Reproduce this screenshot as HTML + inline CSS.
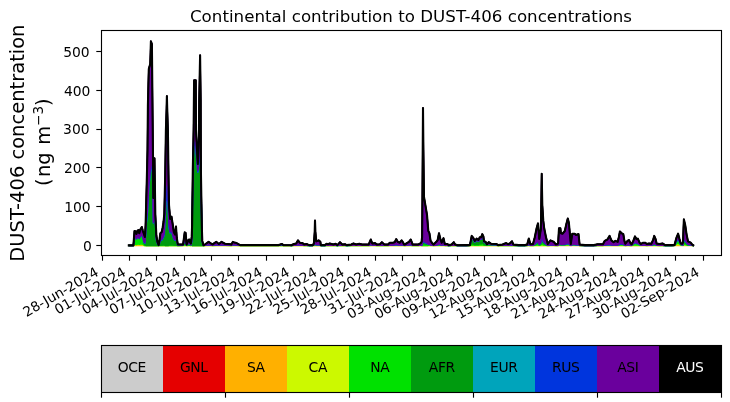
<!DOCTYPE html>
<html lang="en"><head><meta charset="utf-8"><title>Continental contribution to DUST-406 concentrations</title>
<style>html,body{margin:0;padding:0;background:#fff;width:730px;height:402px;overflow:hidden}</style></head>
<body>
<svg width="730" height="402" viewBox="0 0 730 402" style="display:block;position:absolute;left:0;top:0" font-family="'DejaVu Sans','Liberation Sans',sans-serif">
<rect width="730" height="402" fill="#fff"/>
<g stroke-width="1.39" stroke-linejoin="round"><path d="M128.8,245.5 L133.4,245.5 L134.5,244.78 L135.6,244.8 L136.4,244.93 L137.5,244.75 L138.4,244.73 L139.3,244.88 L140.2,244.71 L141.8,244.57 L142.9,244.78 L144,245.5 L144.9,245.5 L145.6,245.5 L146,245.5 L146.8,245.5 L147.5,245.5 L147.9,245.5 L148.4,245.5 L148.8,245.5 L150.2,245.5 L150.6,245.5 L150.9,245.5 L151.9,245.5 L152.6,245.5 L153.4,245.5 L154.5,245.5 L155.3,245.5 L156.4,245.5 L157.5,245.5 L158.6,245.5 L159.5,245.5 L160,245.5 L160.4,245.5 L161.7,245.5 L162.6,245.5 L163.5,245.5 L164.3,245.5 L165.2,245.5 L165.9,245.5 L166.6,245.5 L166.9,245.5 L167.2,245.5 L167.9,245.5 L168.5,245.5 L169,245.5 L170.2,245.5 L171.5,245.5 L172.5,245.5 L173.8,245.5 L175,245.5 L176,245.5 L176.8,245.5 L177.8,245.5 L183,245.5 L183.1,245.5 L184.7,245.5 L185.6,245.5 L186.6,245.5 L188.4,245.5 L189.3,245.5 L190,245.5 L190.9,245.5 L191.6,245.5 L191.7,245.5 L192,245.5 L192.1,245.5 L192.8,245.5 L193.6,245.5 L194.1,245.5 L195.8,245.5 L196,245.5 L197.8,245.5 L198.9,245.5 L199.2,245.5 L200.1,245.5 L200.7,245.5 L200.9,245.5 L201.8,245.5 L202.3,245.5 L203.5,245.5 L205,245.5 L205.5,245.5 L208.6,245.5 L211,245.5 L212.6,245.5 L216.2,245.5 L218.9,245.5 L221.6,245.5 L223.5,245.5 L225.1,245.5 L230.5,245.5 L231.3,245.5 L232.9,245.5 L234.5,245.5 L236.6,245.5 L240,245.5 L240.2,245.5 L242,245.5 L278.7,245.5 L281.8,245.5 L283.5,245.5 L290,245.5 L291.3,245.5 L293,245.5 L294,245.5 L296.2,245.5 L298,245.5 L299.8,245.5 L302.5,245.5 L304.2,245.5 L306.5,245.5 L309.2,245.5 L312.8,245.5 L313.9,245.5 L314.7,245.5 L315,245.5 L315.4,245.5 L316.3,245.5 L318.6,245.5 L320.4,245.5 L320.8,245.5 L324.8,245.5 L326.6,245.5 L328,245.5 L329.8,245.5 L333.3,245.5 L335.6,245.5 L337.4,245.5 L340,245.5 L342.3,245.5 L345,245.5 L346.8,245.5 L351.3,245.5 L353.5,245.5 L356.2,245.5 L359.3,245.5 L362,245.5 L368.7,245.5 L370.8,245.5 L372.3,245.5 L375,245.5 L376.8,245.5 L379.9,245.5 L381.9,245.5 L384.4,245.5 L388,245.5 L389.8,245.5 L392.9,245.5 L394.7,245.5 L396.2,245.5 L397.8,245.5 L399.6,245.5 L401.6,245.5 L403.2,245.5 L404.1,245.5 L405,245.5 L406.8,245.5 L409,245.5 L410.8,245.5 L412.6,245.5 L418.4,245.5 L420,245.5 L420.7,245.5 L421.6,245.5 L422.1,245.5 L422.3,245.5 L422.4,245.5 L423,245.5 L423.4,245.5 L424,245.5 L427,245.5 L427.8,245.5 L428.3,245.5 L429.4,245.5 L430,245.5 L430.6,245.5 L431.9,245.5 L433.6,245.5 L436.3,245.5 L437.7,245.5 L439,245.5 L440.4,245.5 L441.7,245.5 L443.5,245.5 L444.8,245.5 L447.1,245.5 L448.9,245.5 L451.6,245.5 L453.8,245.5 L455.1,245.5 L457.8,245.5 L465,245.5 L466,245.5 L469.9,245.5 L470,245.5 L471.7,245.5 L473.5,245.5 L474.8,245.5 L476.6,245.5 L478.4,245.5 L479.8,245.5 L481.1,245.5 L482.3,245.5 L483.4,245.5 L484,245.5 L485.6,245.5 L486,245.5 L486.9,245.5 L488.7,245.5 L489,245.5 L491,245.5 L496.3,245.5 L498,245.5 L498.1,245.5 L501,245.5 L502.6,245.5 L504.4,245.5 L506.2,245.5 L508,245.5 L509.8,245.5 L512,245.5 L513.3,245.5 L518.7,245.5 L525,245.5 L527.2,245.5 L528,245.5 L528.8,245.5 L530.4,245.5 L533,245.5 L534.8,245.5 L536.6,245.5 L538,245.5 L539.3,245.5 L540.9,245.5 L541.7,245.5 L542.3,245.5 L543.3,245.5 L544.2,245.5 L546,245.5 L547.8,245.5 L548,245.5 L550.5,245.45 L553.6,245.42 L555.9,245.47 L556,245.47 L558.1,245.44 L559,244.98 L560.4,244.98 L560.9,245.13 L562.6,245.15 L564.8,245.06 L566.6,244.82 L567.8,244.69 L568.9,244.82 L569.8,245.12 L570.8,245.45 L572.3,245.15 L574.7,245.15 L576,245.19 L578.5,245.16 L579.6,245.47 L585,245.49 L594,245.49 L597.5,245.46 L600,245.46 L602.9,245.49 L604,245.5 L604.7,245.5 L607.4,245.5 L609.6,245.5 L611.4,245.5 L613.6,245.5 L615.4,245.5 L617.7,245.5 L619,245.5 L619.9,245.5 L621.7,245.5 L623.3,245.5 L624.4,245.5 L625.3,245.5 L627.5,245.5 L628.9,245.5 L630.7,245.5 L631,245.5 L631.6,245.5 L633.3,245.5 L635,245.5 L636.5,245.5 L637.8,245.5 L639.6,245.5 L640,245.5 L641,245.5 L642,245.5 L643.2,245.5 L645,245.5 L646.8,245.5 L649,245.5 L651.3,245.5 L653.1,245.5 L654.2,245.5 L655.6,245.5 L656.6,245.5 L659.3,245.5 L662.5,245.5 L665.1,245.5 L672,245.5 L674.5,245.47 L675,245.27 L676.3,244.77 L678.1,244.32 L679.5,244.86 L680.8,245.3 L681,245.3 L682.2,245.41 L683,245.44 L683.5,245.15 L683.9,244.96 L685.3,245.06 L686.6,245.25 L688,245.4 L690.7,245.42 L692,245.47 L693.3,245.49 L693.3,245.5 L692,245.5 L690.7,245.5 L688,245.5 L686.6,245.5 L685.3,245.5 L683.9,245.5 L683.5,245.5 L683,245.5 L682.2,245.5 L681,245.5 L680.8,245.5 L679.5,245.5 L678.1,245.5 L676.3,245.5 L675,245.5 L674.5,245.5 L672,245.5 L665.1,245.5 L662.5,245.5 L659.3,245.5 L656.6,245.5 L655.6,245.5 L654.2,245.5 L653.1,245.5 L651.3,245.5 L649,245.5 L646.8,245.5 L645,245.5 L643.2,245.5 L642,245.5 L641,245.5 L640,245.5 L639.6,245.5 L637.8,245.5 L636.5,245.5 L635,245.5 L633.3,245.5 L631.6,245.5 L631,245.5 L630.7,245.5 L628.9,245.5 L627.5,245.5 L625.3,245.5 L624.4,245.5 L623.3,245.5 L621.7,245.5 L619.9,245.5 L619,245.5 L617.7,245.5 L615.4,245.5 L613.6,245.5 L611.4,245.5 L609.6,245.5 L607.4,245.5 L604.7,245.5 L604,245.5 L602.9,245.5 L600,245.5 L597.5,245.5 L594,245.5 L585,245.5 L579.6,245.5 L578.5,245.5 L576,245.5 L574.7,245.5 L572.3,245.5 L570.8,245.5 L569.8,245.5 L568.9,245.5 L567.8,245.5 L566.6,245.5 L564.8,245.5 L562.6,245.5 L560.9,245.5 L560.4,245.5 L559,245.5 L558.1,245.5 L556,245.5 L555.9,245.5 L553.6,245.5 L550.5,245.5 L548,245.5 L547.8,245.5 L546,245.5 L544.2,245.5 L543.3,245.5 L542.3,245.5 L541.7,245.5 L540.9,245.5 L539.3,245.5 L538,245.5 L536.6,245.5 L534.8,245.5 L533,245.5 L530.4,245.5 L528.8,245.5 L528,245.5 L527.2,245.5 L525,245.5 L518.7,245.5 L513.3,245.5 L512,245.5 L509.8,245.5 L508,245.5 L506.2,245.5 L504.4,245.5 L502.6,245.5 L501,245.5 L498.1,245.5 L498,245.5 L496.3,245.5 L491,245.5 L489,245.5 L488.7,245.5 L486.9,245.5 L486,245.5 L485.6,245.5 L484,245.5 L483.4,245.5 L482.3,245.5 L481.1,245.5 L479.8,245.5 L478.4,245.5 L476.6,245.5 L474.8,245.5 L473.5,245.5 L471.7,245.5 L470,245.5 L469.9,245.5 L466,245.5 L465,245.5 L457.8,245.5 L455.1,245.5 L453.8,245.5 L451.6,245.5 L448.9,245.5 L447.1,245.5 L444.8,245.5 L443.5,245.5 L441.7,245.5 L440.4,245.5 L439,245.5 L437.7,245.5 L436.3,245.5 L433.6,245.5 L431.9,245.5 L430.6,245.5 L430,245.5 L429.4,245.5 L428.3,245.5 L427.8,245.5 L427,245.5 L424,245.5 L423.4,245.5 L423,245.5 L422.4,245.5 L422.3,245.5 L422.1,245.5 L421.6,245.5 L420.7,245.5 L420,245.5 L418.4,245.5 L412.6,245.5 L410.8,245.5 L409,245.5 L406.8,245.5 L405,245.5 L404.1,245.5 L403.2,245.5 L401.6,245.5 L399.6,245.5 L397.8,245.5 L396.2,245.5 L394.7,245.5 L392.9,245.5 L389.8,245.5 L388,245.5 L384.4,245.5 L381.9,245.5 L379.9,245.5 L376.8,245.5 L375,245.5 L372.3,245.5 L370.8,245.5 L368.7,245.5 L362,245.5 L359.3,245.5 L356.2,245.5 L353.5,245.5 L351.3,245.5 L346.8,245.5 L345,245.5 L342.3,245.5 L340,245.5 L337.4,245.5 L335.6,245.5 L333.3,245.5 L329.8,245.5 L328,245.5 L326.6,245.5 L324.8,245.5 L320.8,245.5 L320.4,245.5 L318.6,245.5 L316.3,245.5 L315.4,245.5 L315,245.5 L314.7,245.5 L313.9,245.5 L312.8,245.5 L309.2,245.5 L306.5,245.5 L304.2,245.5 L302.5,245.5 L299.8,245.5 L298,245.5 L296.2,245.5 L294,245.5 L293,245.5 L291.3,245.5 L290,245.5 L283.5,245.5 L281.8,245.5 L278.7,245.5 L242,245.5 L240.2,245.5 L240,245.5 L236.6,245.5 L234.5,245.5 L232.9,245.5 L231.3,245.5 L230.5,245.5 L225.1,245.5 L223.5,245.5 L221.6,245.5 L218.9,245.5 L216.2,245.5 L212.6,245.5 L211,245.5 L208.6,245.5 L205.5,245.5 L205,245.5 L203.5,245.5 L202.3,245.5 L201.8,245.5 L200.9,245.5 L200.7,245.5 L200.1,245.5 L199.2,245.5 L198.9,245.5 L197.8,245.5 L196,245.5 L195.8,245.5 L194.1,245.5 L193.6,245.5 L192.8,245.5 L192.1,245.5 L192,245.5 L191.7,245.5 L191.6,245.5 L190.9,245.5 L190,245.5 L189.3,245.5 L188.4,245.5 L186.6,245.5 L185.6,245.5 L184.7,245.5 L183.1,245.5 L183,245.5 L177.8,245.5 L176.8,245.5 L176,245.5 L175,245.5 L173.8,245.5 L172.5,245.5 L171.5,245.5 L170.2,245.5 L169,245.5 L168.5,245.5 L167.9,245.5 L167.2,245.5 L166.9,245.5 L166.6,245.5 L165.9,245.5 L165.2,245.5 L164.3,245.5 L163.5,245.5 L162.6,245.5 L161.7,245.5 L160.4,245.5 L160,245.5 L159.5,245.5 L158.6,245.5 L157.5,245.5 L156.4,245.5 L155.3,245.5 L154.5,245.5 L153.4,245.5 L152.6,245.5 L151.9,245.5 L150.9,245.5 L150.6,245.5 L150.2,245.5 L148.8,245.5 L148.4,245.5 L147.9,245.5 L147.5,245.5 L146.8,245.5 L146,245.5 L145.6,245.5 L144.9,245.5 L144,245.5 L142.9,245.5 L141.8,245.5 L140.2,245.5 L139.3,245.5 L138.4,245.5 L137.5,245.5 L136.4,245.5 L135.6,245.5 L134.5,245.5 L133.4,245.5 L128.8,245.5Z" fill="#ffb000" stroke="#ffb000"/><path d="M128.8,245.49 L133.4,245.49 L134.5,244.19 L135.6,244.24 L136.4,244.47 L137.5,244.16 L138.4,244.11 L139.3,244.39 L140.2,244.08 L141.8,243.84 L142.9,244.19 L144,245.16 L144.9,245.5 L145.6,245.5 L146,245.5 L146.8,245.5 L147.5,245.5 L147.9,245.5 L148.4,245.5 L148.8,245.5 L150.2,245.5 L150.6,245.5 L150.9,245.5 L151.9,245.5 L152.6,245.5 L153.4,245.5 L154.5,245.5 L155.3,245.5 L156.4,245.5 L157.5,245.5 L158.6,245.5 L159.5,245.5 L160,245.5 L160.4,245.5 L161.7,245.5 L162.6,245.5 L163.5,245.5 L164.3,245.5 L165.2,245.5 L165.9,245.5 L166.6,245.5 L166.9,245.5 L167.2,245.5 L167.9,245.5 L168.5,245.5 L169,245.5 L170.2,245.5 L171.5,245.5 L172.5,245.5 L173.8,245.5 L175,245.5 L176,245.5 L176.8,245.5 L177.8,245.5 L183,245.45 L183.1,245.45 L184.7,244.9 L185.6,244.95 L186.6,245.46 L188.4,245.29 L189.3,245.29 L190,245.38 L190.9,245.44 L191.6,245.27 L191.7,245.31 L192,245.5 L192.1,245.5 L192.8,245.5 L193.6,245.5 L194.1,245.5 L195.8,245.5 L196,245.5 L197.8,245.5 L198.9,245.5 L199.2,245.5 L200.1,245.5 L200.7,245.5 L200.9,245.5 L201.8,245.5 L202.3,245.5 L203.5,245.5 L205,245.44 L205.5,245.43 L208.6,245.31 L211,245.4 L212.6,245.44 L216.2,245.31 L218.9,245.43 L221.6,245.31 L223.5,245.38 L225.1,245.41 L230.5,245.44 L231.3,245.45 L232.9,245.32 L234.5,245.35 L236.6,245.38 L240,245.47 L240.2,245.48 L242,245.5 L278.7,245.5 L281.8,245.5 L283.5,245.5 L290,245.5 L291.3,245.5 L293,245.45 L294,245.42 L296.2,245.4 L298,245.25 L299.8,245.36 L302.5,245.38 L304.2,245.45 L306.5,245.42 L309.2,245.48 L312.8,245.48 L313.9,245.4 L314.7,244.82 L315,244.25 L315.4,244.82 L316.3,245.29 L318.6,245.25 L320.4,245.31 L320.8,245.48 L324.8,245.48 L326.6,245.41 L328,245.44 L329.8,245.4 L333.3,245.45 L335.6,245.41 L337.4,245.48 L340,245.34 L342.3,245.45 L345,245.44 L346.8,245.48 L351.3,245.45 L353.5,245.4 L356.2,245.45 L359.3,245.41 L362,245.45 L368.7,245.45 L370.8,245.2 L372.3,245.4 L375,245.38 L376.8,245.45 L379.9,245.44 L381.9,245.34 L384.4,245.45 L388,245.45 L389.8,245.36 L392.9,245.36 L394.7,245.34 L396.2,245.18 L397.8,245.31 L399.6,245.36 L401.6,245.25 L403.2,245.36 L404.1,245.45 L405,245.45 L406.8,245.38 L409,245.31 L410.8,245.2 L412.6,245.45 L418.4,245.45 L420,245.4 L420.7,245.42 L421.6,245.45 L422.1,245.46 L422.3,245.5 L422.4,245.5 L423,245.5 L423.4,245.5 L424,245.5 L427,245.5 L427.8,245.5 L428.3,245.37 L429.4,245.14 L430,245.16 L430.6,245.32 L431.9,245.39 L433.6,245.46 L436.3,245.35 L437.7,245.28 L439,245.01 L440.4,245.24 L441.7,245.39 L443.5,245.21 L444.8,245.44 L447.1,245.44 L448.9,245.48 L451.6,245.46 L453.8,245.37 L455.1,245.46 L457.8,245.49 L465,245.48 L466,245.48 L469.9,245.48 L470,245.45 L471.7,245.02 L473.5,245.13 L474.8,245.27 L476.6,245.16 L478.4,245.22 L479.8,245.09 L481.1,245.09 L482.3,244.93 L483.4,245.04 L484,245.29 L485.6,245.31 L486,245.35 L486.9,245.42 L488.7,245.19 L489,245.19 L491,245.32 L496.3,245.34 L498,245.45 L498.1,245.46 L501,245.5 L502.6,245.5 L504.4,245.5 L506.2,245.5 L508,245.5 L509.8,245.5 L512,245.5 L513.3,245.5 L518.7,245.5 L525,245.5 L527.2,245.48 L528,245.42 L528.8,245.36 L530.4,245.47 L533,245.47 L534.8,245.34 L536.6,245.16 L538,245.06 L539.3,245.37 L540.9,245.17 L541.7,244.07 L542.3,244.69 L543.3,245.01 L544.2,245.16 L546,245.34 L547.8,245.47 L548,245.46 L550.5,245.38 L553.6,245.4 L555.9,245.47 L556,245.47 L558.1,245.44 L559,244.98 L560.4,244.98 L560.9,245.13 L562.6,245.15 L564.8,245.06 L566.6,244.82 L567.8,244.69 L568.9,244.82 L569.8,245.12 L570.8,245.45 L572.3,245.15 L574.7,245.15 L576,245.19 L578.5,245.16 L579.6,245.47 L585,245.49 L594,245.49 L597.5,245.46 L600,245.46 L602.9,245.46 L604,245.4 L604.7,245.36 L607.4,245.32 L609.6,245.21 L611.4,245.35 L613.6,245.4 L615.4,245.36 L617.7,245.39 L619,245.23 L619.9,245.08 L621.7,245.13 L623.3,245.16 L624.4,245.36 L625.3,245.45 L627.5,245.36 L628.9,245.34 L630.7,245.44 L631,245.45 L631.6,245.45 L633.3,245.18 L635,244.86 L636.5,245.05 L637.8,245.02 L639.6,245.3 L640,245.33 L641,245.41 L642,245.42 L643.2,245.39 L645,245.39 L646.8,245.44 L649,245.42 L651.3,245.43 L653.1,245.28 L654.2,245.12 L655.6,245.24 L656.6,245.42 L659.3,245.44 L662.5,245.42 L665.1,245.48 L672,245.48 L674.5,245.43 L675,245.04 L676.3,244.04 L678.1,243.14 L679.5,244.22 L680.8,245.09 L681,245.1 L682.2,245.31 L683,245.38 L683.5,244.79 L683.9,244.39 L685.3,244.58 L686.6,244.96 L688,245.27 L690.7,245.33 L692,245.43 L693.3,245.49 L693.3,245.49 L692,245.47 L690.7,245.42 L688,245.4 L686.6,245.25 L685.3,245.06 L683.9,244.96 L683.5,245.15 L683,245.44 L682.2,245.41 L681,245.3 L680.8,245.3 L679.5,244.86 L678.1,244.32 L676.3,244.77 L675,245.27 L674.5,245.47 L672,245.5 L665.1,245.5 L662.5,245.5 L659.3,245.5 L656.6,245.5 L655.6,245.5 L654.2,245.5 L653.1,245.5 L651.3,245.5 L649,245.5 L646.8,245.5 L645,245.5 L643.2,245.5 L642,245.5 L641,245.5 L640,245.5 L639.6,245.5 L637.8,245.5 L636.5,245.5 L635,245.5 L633.3,245.5 L631.6,245.5 L631,245.5 L630.7,245.5 L628.9,245.5 L627.5,245.5 L625.3,245.5 L624.4,245.5 L623.3,245.5 L621.7,245.5 L619.9,245.5 L619,245.5 L617.7,245.5 L615.4,245.5 L613.6,245.5 L611.4,245.5 L609.6,245.5 L607.4,245.5 L604.7,245.5 L604,245.5 L602.9,245.49 L600,245.46 L597.5,245.46 L594,245.49 L585,245.49 L579.6,245.47 L578.5,245.16 L576,245.19 L574.7,245.15 L572.3,245.15 L570.8,245.45 L569.8,245.12 L568.9,244.82 L567.8,244.69 L566.6,244.82 L564.8,245.06 L562.6,245.15 L560.9,245.13 L560.4,244.98 L559,244.98 L558.1,245.44 L556,245.47 L555.9,245.47 L553.6,245.42 L550.5,245.45 L548,245.5 L547.8,245.5 L546,245.5 L544.2,245.5 L543.3,245.5 L542.3,245.5 L541.7,245.5 L540.9,245.5 L539.3,245.5 L538,245.5 L536.6,245.5 L534.8,245.5 L533,245.5 L530.4,245.5 L528.8,245.5 L528,245.5 L527.2,245.5 L525,245.5 L518.7,245.5 L513.3,245.5 L512,245.5 L509.8,245.5 L508,245.5 L506.2,245.5 L504.4,245.5 L502.6,245.5 L501,245.5 L498.1,245.5 L498,245.5 L496.3,245.5 L491,245.5 L489,245.5 L488.7,245.5 L486.9,245.5 L486,245.5 L485.6,245.5 L484,245.5 L483.4,245.5 L482.3,245.5 L481.1,245.5 L479.8,245.5 L478.4,245.5 L476.6,245.5 L474.8,245.5 L473.5,245.5 L471.7,245.5 L470,245.5 L469.9,245.5 L466,245.5 L465,245.5 L457.8,245.5 L455.1,245.5 L453.8,245.5 L451.6,245.5 L448.9,245.5 L447.1,245.5 L444.8,245.5 L443.5,245.5 L441.7,245.5 L440.4,245.5 L439,245.5 L437.7,245.5 L436.3,245.5 L433.6,245.5 L431.9,245.5 L430.6,245.5 L430,245.5 L429.4,245.5 L428.3,245.5 L427.8,245.5 L427,245.5 L424,245.5 L423.4,245.5 L423,245.5 L422.4,245.5 L422.3,245.5 L422.1,245.5 L421.6,245.5 L420.7,245.5 L420,245.5 L418.4,245.5 L412.6,245.5 L410.8,245.5 L409,245.5 L406.8,245.5 L405,245.5 L404.1,245.5 L403.2,245.5 L401.6,245.5 L399.6,245.5 L397.8,245.5 L396.2,245.5 L394.7,245.5 L392.9,245.5 L389.8,245.5 L388,245.5 L384.4,245.5 L381.9,245.5 L379.9,245.5 L376.8,245.5 L375,245.5 L372.3,245.5 L370.8,245.5 L368.7,245.5 L362,245.5 L359.3,245.5 L356.2,245.5 L353.5,245.5 L351.3,245.5 L346.8,245.5 L345,245.5 L342.3,245.5 L340,245.5 L337.4,245.5 L335.6,245.5 L333.3,245.5 L329.8,245.5 L328,245.5 L326.6,245.5 L324.8,245.5 L320.8,245.5 L320.4,245.5 L318.6,245.5 L316.3,245.5 L315.4,245.5 L315,245.5 L314.7,245.5 L313.9,245.5 L312.8,245.5 L309.2,245.5 L306.5,245.5 L304.2,245.5 L302.5,245.5 L299.8,245.5 L298,245.5 L296.2,245.5 L294,245.5 L293,245.5 L291.3,245.5 L290,245.5 L283.5,245.5 L281.8,245.5 L278.7,245.5 L242,245.5 L240.2,245.5 L240,245.5 L236.6,245.5 L234.5,245.5 L232.9,245.5 L231.3,245.5 L230.5,245.5 L225.1,245.5 L223.5,245.5 L221.6,245.5 L218.9,245.5 L216.2,245.5 L212.6,245.5 L211,245.5 L208.6,245.5 L205.5,245.5 L205,245.5 L203.5,245.5 L202.3,245.5 L201.8,245.5 L200.9,245.5 L200.7,245.5 L200.1,245.5 L199.2,245.5 L198.9,245.5 L197.8,245.5 L196,245.5 L195.8,245.5 L194.1,245.5 L193.6,245.5 L192.8,245.5 L192.1,245.5 L192,245.5 L191.7,245.5 L191.6,245.5 L190.9,245.5 L190,245.5 L189.3,245.5 L188.4,245.5 L186.6,245.5 L185.6,245.5 L184.7,245.5 L183.1,245.5 L183,245.5 L177.8,245.5 L176.8,245.5 L176,245.5 L175,245.5 L173.8,245.5 L172.5,245.5 L171.5,245.5 L170.2,245.5 L169,245.5 L168.5,245.5 L167.9,245.5 L167.2,245.5 L166.9,245.5 L166.6,245.5 L165.9,245.5 L165.2,245.5 L164.3,245.5 L163.5,245.5 L162.6,245.5 L161.7,245.5 L160.4,245.5 L160,245.5 L159.5,245.5 L158.6,245.5 L157.5,245.5 L156.4,245.5 L155.3,245.5 L154.5,245.5 L153.4,245.5 L152.6,245.5 L151.9,245.5 L150.9,245.5 L150.6,245.5 L150.2,245.5 L148.8,245.5 L148.4,245.5 L147.9,245.5 L147.5,245.5 L146.8,245.5 L146,245.5 L145.6,245.5 L144.9,245.5 L144,245.5 L142.9,244.78 L141.8,244.57 L140.2,244.71 L139.3,244.88 L138.4,244.73 L137.5,244.75 L136.4,244.93 L135.6,244.8 L134.5,244.78 L133.4,245.5 L128.8,245.5Z" fill="#ccf900" stroke="#ccf900"/><path d="M128.8,245.44 L133.4,245.44 L134.5,237.53 L135.6,237.8 L136.4,239.18 L137.5,237.31 L138.4,237.03 L139.3,238.73 L140.2,236.81 L141.8,235.32 L142.9,237.53 L144,243.45 L144.9,244.82 L145.6,244.47 L146,245.5 L146.8,245.5 L147.5,245.5 L147.9,245.5 L148.4,245.5 L148.8,245.5 L150.2,245.5 L150.6,245.5 L150.9,245.5 L151.9,245.5 L152.6,245.5 L153.4,245.5 L154.5,245.5 L155.3,245.5 L156.4,245.5 L157.5,245.5 L158.6,245.5 L159.5,245.39 L160,245.22 L160.4,245.13 L161.7,245.09 L162.6,244.97 L163.5,244.92 L164.3,244.87 L165.2,245.5 L165.9,245.5 L166.6,245.5 L166.9,245.5 L167.2,245.5 L167.9,245.5 L168.5,245.5 L169,245.14 L170.2,244.71 L171.5,244.64 L172.5,244.82 L173.8,245.09 L175,245.17 L176,244.93 L176.8,245.28 L177.8,245.47 L183,245.34 L183.1,245.34 L184.7,243.66 L185.6,243.8 L186.6,245.36 L188.4,244.85 L189.3,244.82 L190,245.11 L190.9,245.29 L191.6,244.72 L191.7,244.85 L192,245.5 L192.1,245.5 L192.8,245.5 L193.6,245.5 L194.1,245.5 L195.8,245.5 L196,245.5 L197.8,245.5 L198.9,245.5 L199.2,245.5 L200.1,245.5 L200.7,245.5 L200.9,245.5 L201.8,245.5 L202.3,245.5 L203.5,245.5 L205,245.32 L205.5,245.28 L208.6,244.94 L211,245.2 L212.6,245.34 L216.2,244.94 L218.9,245.28 L221.6,244.94 L223.5,245.12 L225.1,245.23 L230.5,245.31 L231.3,245.35 L232.9,244.96 L234.5,245.06 L236.6,245.14 L240,245.42 L240.2,245.43 L242,245.38 L278.7,245.38 L281.8,245.03 L283.5,245.38 L290,245.43 L291.3,245.45 L293,245.34 L294,245.27 L296.2,245.19 L298,244.74 L299.8,245.08 L302.5,245.14 L304.2,245.34 L306.5,245.27 L309.2,245.44 L312.8,245.44 L313.9,245.19 L314.7,243.46 L315,241.75 L315.4,243.46 L316.3,244.88 L318.6,244.74 L320.4,244.94 L320.8,245.44 L324.8,245.44 L326.6,245.23 L328,245.31 L329.8,245.19 L333.3,245.34 L335.6,245.23 L337.4,245.44 L340,245 L342.3,245.34 L345,245.31 L346.8,245.44 L351.3,245.34 L353.5,245.19 L356.2,245.34 L359.3,245.23 L362,245.34 L368.7,245.34 L370.8,244.6 L372.3,245.19 L375,245.14 L376.8,245.34 L379.9,245.31 L381.9,245 L384.4,245.34 L388,245.34 L389.8,245.08 L392.9,245.08 L394.7,245 L396.2,244.54 L397.8,244.94 L399.6,245.08 L401.6,244.74 L403.2,245.08 L404.1,245.34 L405,245.34 L406.8,245.14 L409,244.94 L410.8,244.6 L412.6,245.34 L418.4,245.34 L420,245.21 L420.7,245.24 L421.6,245.26 L422.1,245.15 L422.3,244.5 L422.4,244.13 L423,241.2 L423.4,242.44 L424,243.9 L427,244.32 L427.8,244.67 L428.3,244.65 L429.4,244.28 L430,244.48 L430.6,244.95 L431.9,245.16 L433.6,245.37 L436.3,245.06 L437.7,244.84 L439,244.04 L440.4,244.73 L441.7,245.16 L443.5,244.62 L444.8,245.31 L447.1,245.31 L448.9,245.45 L451.6,245.37 L453.8,245.1 L455.1,245.37 L457.8,245.48 L465,245.45 L466,245.45 L469.9,245.42 L470,245.32 L471.7,243.58 L473.5,244.04 L474.8,244.58 L476.6,244.12 L478.4,244.4 L479.8,243.86 L481.1,243.86 L482.3,243.22 L483.4,243.68 L484,244.66 L485.6,244.76 L486,244.91 L486.9,245.21 L488.7,244.54 L489,244.57 L491,244.97 L496.3,245.03 L498,245.36 L498.1,245.38 L501,245.42 L502.6,245.39 L504.4,245.32 L506.2,245.26 L508,245.37 L509.8,245.3 L512,245.08 L513.3,245.39 L518.7,245.46 L525,245.46 L527.2,245.39 L528,245.1 L528.8,244.81 L530.4,245.37 L533,245.34 L534.8,244.68 L536.6,243.78 L538,243.29 L539.3,244.84 L540.9,243.84 L541.7,238.33 L542.3,241.45 L543.3,243.04 L544.2,243.78 L546,244.68 L547.8,245.34 L548,245.32 L550.5,245.04 L553.6,245.21 L555.9,245.43 L556,245.42 L558.1,245.36 L559,244.3 L560.4,244.3 L560.9,244.65 L562.6,244.67 L564.8,244.49 L566.6,243.93 L567.8,243.61 L568.9,243.93 L569.8,244.61 L570.8,245.39 L572.3,244.67 L574.7,244.67 L576,244.76 L578.5,244.7 L579.6,245.43 L585,245.47 L594,245.47 L597.5,245.41 L600,245.41 L602.9,245.38 L604,245.17 L604.7,245.04 L607.4,244.9 L609.6,244.54 L611.4,244.99 L613.6,245.17 L615.4,245.04 L617.7,245.13 L619,244.59 L619.9,244.1 L621.7,244.28 L623.3,244.36 L624.4,245.04 L625.3,245.32 L627.5,245.04 L628.9,244.95 L630.7,245.3 L631,245.32 L631.6,245.3 L633.3,244.03 L635,242.59 L636.5,243.45 L637.8,243.29 L639.6,244.6 L640,244.72 L641,245.14 L642,245.2 L643.2,245.11 L645,245.11 L646.8,245.28 L649,245.21 L651.3,245.25 L653.1,244.73 L654.2,244.16 L655.6,244.6 L656.6,245.21 L659.3,245.28 L662.5,245.21 L665.1,245.44 L672,245.44 L674.5,245.32 L675,244.34 L676.3,241.85 L678.1,239.6 L679.5,242.3 L680.8,244.48 L681,244.49 L682.2,245 L683,245.13 L683.5,243.4 L683.9,242.26 L685.3,242.9 L686.6,244.01 L688,244.9 L690.7,245.07 L692,245.33 L693.3,245.47 L693.3,245.49 L692,245.43 L690.7,245.33 L688,245.27 L686.6,244.96 L685.3,244.58 L683.9,244.39 L683.5,244.79 L683,245.38 L682.2,245.31 L681,245.1 L680.8,245.09 L679.5,244.22 L678.1,243.14 L676.3,244.04 L675,245.04 L674.5,245.43 L672,245.48 L665.1,245.48 L662.5,245.42 L659.3,245.44 L656.6,245.42 L655.6,245.24 L654.2,245.12 L653.1,245.28 L651.3,245.43 L649,245.42 L646.8,245.44 L645,245.39 L643.2,245.39 L642,245.42 L641,245.41 L640,245.33 L639.6,245.3 L637.8,245.02 L636.5,245.05 L635,244.86 L633.3,245.18 L631.6,245.45 L631,245.45 L630.7,245.44 L628.9,245.34 L627.5,245.36 L625.3,245.45 L624.4,245.36 L623.3,245.16 L621.7,245.13 L619.9,245.08 L619,245.23 L617.7,245.39 L615.4,245.36 L613.6,245.4 L611.4,245.35 L609.6,245.21 L607.4,245.32 L604.7,245.36 L604,245.4 L602.9,245.46 L600,245.46 L597.5,245.46 L594,245.49 L585,245.49 L579.6,245.47 L578.5,245.16 L576,245.19 L574.7,245.15 L572.3,245.15 L570.8,245.45 L569.8,245.12 L568.9,244.82 L567.8,244.69 L566.6,244.82 L564.8,245.06 L562.6,245.15 L560.9,245.13 L560.4,244.98 L559,244.98 L558.1,245.44 L556,245.47 L555.9,245.47 L553.6,245.4 L550.5,245.38 L548,245.46 L547.8,245.47 L546,245.34 L544.2,245.16 L543.3,245.01 L542.3,244.69 L541.7,244.07 L540.9,245.17 L539.3,245.37 L538,245.06 L536.6,245.16 L534.8,245.34 L533,245.47 L530.4,245.47 L528.8,245.36 L528,245.42 L527.2,245.48 L525,245.5 L518.7,245.5 L513.3,245.5 L512,245.5 L509.8,245.5 L508,245.5 L506.2,245.5 L504.4,245.5 L502.6,245.5 L501,245.5 L498.1,245.46 L498,245.45 L496.3,245.34 L491,245.32 L489,245.19 L488.7,245.19 L486.9,245.42 L486,245.35 L485.6,245.31 L484,245.29 L483.4,245.04 L482.3,244.93 L481.1,245.09 L479.8,245.09 L478.4,245.22 L476.6,245.16 L474.8,245.27 L473.5,245.13 L471.7,245.02 L470,245.45 L469.9,245.48 L466,245.48 L465,245.48 L457.8,245.49 L455.1,245.46 L453.8,245.37 L451.6,245.46 L448.9,245.48 L447.1,245.44 L444.8,245.44 L443.5,245.21 L441.7,245.39 L440.4,245.24 L439,245.01 L437.7,245.28 L436.3,245.35 L433.6,245.46 L431.9,245.39 L430.6,245.32 L430,245.16 L429.4,245.14 L428.3,245.37 L427.8,245.5 L427,245.5 L424,245.5 L423.4,245.5 L423,245.5 L422.4,245.5 L422.3,245.5 L422.1,245.46 L421.6,245.45 L420.7,245.42 L420,245.4 L418.4,245.45 L412.6,245.45 L410.8,245.2 L409,245.31 L406.8,245.38 L405,245.45 L404.1,245.45 L403.2,245.36 L401.6,245.25 L399.6,245.36 L397.8,245.31 L396.2,245.18 L394.7,245.34 L392.9,245.36 L389.8,245.36 L388,245.45 L384.4,245.45 L381.9,245.34 L379.9,245.44 L376.8,245.45 L375,245.38 L372.3,245.4 L370.8,245.2 L368.7,245.45 L362,245.45 L359.3,245.41 L356.2,245.45 L353.5,245.4 L351.3,245.45 L346.8,245.48 L345,245.44 L342.3,245.45 L340,245.34 L337.4,245.48 L335.6,245.41 L333.3,245.45 L329.8,245.4 L328,245.44 L326.6,245.41 L324.8,245.48 L320.8,245.48 L320.4,245.31 L318.6,245.25 L316.3,245.29 L315.4,244.82 L315,244.25 L314.7,244.82 L313.9,245.4 L312.8,245.48 L309.2,245.48 L306.5,245.42 L304.2,245.45 L302.5,245.38 L299.8,245.36 L298,245.25 L296.2,245.4 L294,245.42 L293,245.45 L291.3,245.5 L290,245.5 L283.5,245.5 L281.8,245.5 L278.7,245.5 L242,245.5 L240.2,245.48 L240,245.47 L236.6,245.38 L234.5,245.35 L232.9,245.32 L231.3,245.45 L230.5,245.44 L225.1,245.41 L223.5,245.38 L221.6,245.31 L218.9,245.43 L216.2,245.31 L212.6,245.44 L211,245.4 L208.6,245.31 L205.5,245.43 L205,245.44 L203.5,245.5 L202.3,245.5 L201.8,245.5 L200.9,245.5 L200.7,245.5 L200.1,245.5 L199.2,245.5 L198.9,245.5 L197.8,245.5 L196,245.5 L195.8,245.5 L194.1,245.5 L193.6,245.5 L192.8,245.5 L192.1,245.5 L192,245.5 L191.7,245.31 L191.6,245.27 L190.9,245.44 L190,245.38 L189.3,245.29 L188.4,245.29 L186.6,245.46 L185.6,244.95 L184.7,244.9 L183.1,245.45 L183,245.45 L177.8,245.5 L176.8,245.5 L176,245.5 L175,245.5 L173.8,245.5 L172.5,245.5 L171.5,245.5 L170.2,245.5 L169,245.5 L168.5,245.5 L167.9,245.5 L167.2,245.5 L166.9,245.5 L166.6,245.5 L165.9,245.5 L165.2,245.5 L164.3,245.5 L163.5,245.5 L162.6,245.5 L161.7,245.5 L160.4,245.5 L160,245.5 L159.5,245.5 L158.6,245.5 L157.5,245.5 L156.4,245.5 L155.3,245.5 L154.5,245.5 L153.4,245.5 L152.6,245.5 L151.9,245.5 L150.9,245.5 L150.6,245.5 L150.2,245.5 L148.8,245.5 L148.4,245.5 L147.9,245.5 L147.5,245.5 L146.8,245.5 L146,245.5 L145.6,245.5 L144.9,245.5 L144,245.16 L142.9,244.19 L141.8,243.84 L140.2,244.08 L139.3,244.39 L138.4,244.11 L137.5,244.16 L136.4,244.47 L135.6,244.24 L134.5,244.19 L133.4,245.49 L128.8,245.49Z" fill="#00e100" stroke="#00e100"/><path d="M128.8,245.44 L133.4,245.44 L134.5,237.24 L135.6,237.52 L136.4,238.94 L137.5,237.01 L138.4,236.72 L139.3,238.49 L140.2,236.49 L141.8,234.95 L142.9,237.24 L144,242.31 L144.9,243.12 L145.6,235.25 L146,225.99 L146.8,219.14 L147.5,212.11 L147.9,203.58 L148.4,194.25 L148.8,187.31 L150.2,172.98 L150.6,169.5 L150.9,167.08 L151.9,167.07 L152.6,173.48 L153.4,222.92 L154.5,207.09 L155.3,222.17 L156.4,239.8 L157.5,243.49 L158.6,245.28 L159.5,242.9 L160,241.51 L160.4,240.29 L161.7,240.05 L162.6,238.68 L163.5,236.83 L164.3,234.47 L165.2,216.29 L165.9,201.91 L166.6,198.68 L166.9,196.99 L167.2,198.54 L167.9,201.53 L168.5,216.29 L169,227.94 L170.2,232.78 L171.5,231.68 L172.5,234.7 L173.8,239.02 L175,240.22 L176,236.38 L176.8,241.9 L177.8,244.97 L183,245.13 L183.1,245.13 L184.7,240.79 L185.6,240.9 L186.6,245.11 L188.4,243.4 L189.3,243.18 L190,244.09 L190.9,244.69 L191.6,242.39 L191.7,241.42 L192,233.7 L192.1,231.47 L192.8,183.23 L193.6,150.22 L194.1,145.21 L195.8,145.21 L196,150.22 L197.8,172.15 L198.9,163.35 L199.2,162.08 L200.1,160.58 L200.7,162.08 L200.9,179.34 L201.8,228.86 L202.3,242.07 L203.5,245.4 L205,245.26 L205.5,245.2 L208.6,244.76 L211,245.1 L212.6,245.28 L216.2,244.76 L218.9,245.2 L221.6,244.76 L223.5,245 L225.1,245.14 L230.5,245.24 L231.3,245.3 L232.9,244.78 L234.5,244.92 L236.6,245.02 L240,245.4 L240.2,245.42 L242,245.38 L278.7,245.38 L281.8,245.03 L283.5,245.38 L290,245.43 L291.3,245.45 L293,245.34 L294,245.27 L296.2,245.19 L298,244.74 L299.8,245.08 L302.5,245.14 L304.2,245.34 L306.5,245.27 L309.2,245.44 L312.8,245.44 L313.9,245.19 L314.7,243.46 L315,241.75 L315.4,243.46 L316.3,244.88 L318.6,244.74 L320.4,244.94 L320.8,245.44 L324.8,245.44 L326.6,245.23 L328,245.31 L329.8,245.19 L333.3,245.34 L335.6,245.23 L337.4,245.44 L340,245 L342.3,245.34 L345,245.31 L346.8,245.44 L351.3,245.34 L353.5,245.19 L356.2,245.34 L359.3,245.23 L362,245.34 L368.7,245.34 L370.8,244.6 L372.3,245.19 L375,245.14 L376.8,245.34 L379.9,245.31 L381.9,245 L384.4,245.34 L388,245.34 L389.8,245.08 L392.9,245.08 L394.7,245 L396.2,244.54 L397.8,244.94 L399.6,245.08 L401.6,244.74 L403.2,245.08 L404.1,245.34 L405,245.34 L406.8,245.14 L409,244.94 L410.8,244.6 L412.6,245.34 L418.4,245.34 L420,245.21 L420.7,245.22 L421.6,245.19 L422.1,244.92 L422.3,243.51 L422.4,242.76 L423,237.07 L423.4,239.58 L424,242.44 L427,243.4 L427.8,244.05 L428.3,244.31 L429.4,244.18 L430,244.48 L430.6,244.95 L431.9,245.16 L433.6,245.37 L436.3,245.06 L437.7,244.84 L439,244.04 L440.4,244.73 L441.7,245.16 L443.5,244.62 L444.8,245.31 L447.1,245.31 L448.9,245.45 L451.6,245.37 L453.8,245.1 L455.1,245.37 L457.8,245.48 L465,245.45 L466,245.45 L469.9,245.21 L470,244.82 L471.7,238.3 L473.5,240.03 L474.8,242.05 L476.6,240.32 L478.4,241.38 L479.8,239.35 L481.1,239.35 L482.3,236.95 L483.4,238.68 L484,242.35 L485.6,242.73 L486,243.28 L486.9,244.64 L488.7,243.77 L489,243.95 L491,244.62 L496.3,244.72 L498,245.27 L498.1,245.31 L501,245.42 L502.6,245.39 L504.4,245.32 L506.2,245.26 L508,245.37 L509.8,245.3 L512,245.08 L513.3,245.39 L518.7,245.46 L525,245.46 L527.2,245.35 L528,244.86 L528.8,244.4 L530.4,245.3 L533,245.25 L534.8,244.19 L536.6,242.75 L538,241.96 L539.3,244.44 L540.9,242.84 L541.7,234.03 L542.3,239.02 L543.3,241.56 L544.2,242.75 L546,244.19 L547.8,245.25 L548,245.21 L550.5,244.83 L553.6,245.14 L555.9,245.42 L556,245.42 L558.1,245.36 L559,244.3 L560.4,244.3 L560.9,244.65 L562.6,244.67 L564.8,244.49 L566.6,243.93 L567.8,243.61 L568.9,243.93 L569.8,244.61 L570.8,245.39 L572.3,244.67 L574.7,244.67 L576,244.76 L578.5,244.7 L579.6,245.43 L585,245.47 L594,245.47 L597.5,245.41 L600,245.41 L602.9,245.38 L604,245.17 L604.7,245.04 L607.4,244.9 L609.6,244.54 L611.4,244.99 L613.6,245.17 L615.4,245.04 L617.7,245.13 L619,244.59 L619.9,244.1 L621.7,244.28 L623.3,244.36 L624.4,245.04 L625.3,245.32 L627.5,245.04 L628.9,244.95 L630.7,245.3 L631,245.32 L631.6,245.3 L633.3,244.03 L635,242.59 L636.5,243.45 L637.8,243.29 L639.6,244.6 L640,244.72 L641,245.14 L642,245.2 L643.2,245.11 L645,245.11 L646.8,245.28 L649,245.21 L651.3,245.25 L653.1,244.73 L654.2,244.16 L655.6,244.6 L656.6,245.21 L659.3,245.28 L662.5,245.21 L665.1,245.44 L672,245.44 L674.5,245.32 L675,244.34 L676.3,241.85 L678.1,239.6 L679.5,242.3 L680.8,244.48 L681,244.49 L682.2,244.89 L683,244.82 L683.5,241.68 L683.9,239.65 L685.3,240.91 L686.6,242.92 L688,244.48 L690.7,244.79 L692,245.22 L693.3,245.45 L693.3,245.47 L692,245.33 L690.7,245.07 L688,244.9 L686.6,244.01 L685.3,242.9 L683.9,242.26 L683.5,243.4 L683,245.13 L682.2,245 L681,244.49 L680.8,244.48 L679.5,242.3 L678.1,239.6 L676.3,241.85 L675,244.34 L674.5,245.32 L672,245.44 L665.1,245.44 L662.5,245.21 L659.3,245.28 L656.6,245.21 L655.6,244.6 L654.2,244.16 L653.1,244.73 L651.3,245.25 L649,245.21 L646.8,245.28 L645,245.11 L643.2,245.11 L642,245.2 L641,245.14 L640,244.72 L639.6,244.6 L637.8,243.29 L636.5,243.45 L635,242.59 L633.3,244.03 L631.6,245.3 L631,245.32 L630.7,245.3 L628.9,244.95 L627.5,245.04 L625.3,245.32 L624.4,245.04 L623.3,244.36 L621.7,244.28 L619.9,244.1 L619,244.59 L617.7,245.13 L615.4,245.04 L613.6,245.17 L611.4,244.99 L609.6,244.54 L607.4,244.9 L604.7,245.04 L604,245.17 L602.9,245.38 L600,245.41 L597.5,245.41 L594,245.47 L585,245.47 L579.6,245.43 L578.5,244.7 L576,244.76 L574.7,244.67 L572.3,244.67 L570.8,245.39 L569.8,244.61 L568.9,243.93 L567.8,243.61 L566.6,243.93 L564.8,244.49 L562.6,244.67 L560.9,244.65 L560.4,244.3 L559,244.3 L558.1,245.36 L556,245.42 L555.9,245.43 L553.6,245.21 L550.5,245.04 L548,245.32 L547.8,245.34 L546,244.68 L544.2,243.78 L543.3,243.04 L542.3,241.45 L541.7,238.33 L540.9,243.84 L539.3,244.84 L538,243.29 L536.6,243.78 L534.8,244.68 L533,245.34 L530.4,245.37 L528.8,244.81 L528,245.1 L527.2,245.39 L525,245.46 L518.7,245.46 L513.3,245.39 L512,245.08 L509.8,245.3 L508,245.37 L506.2,245.26 L504.4,245.32 L502.6,245.39 L501,245.42 L498.1,245.38 L498,245.36 L496.3,245.03 L491,244.97 L489,244.57 L488.7,244.54 L486.9,245.21 L486,244.91 L485.6,244.76 L484,244.66 L483.4,243.68 L482.3,243.22 L481.1,243.86 L479.8,243.86 L478.4,244.4 L476.6,244.12 L474.8,244.58 L473.5,244.04 L471.7,243.58 L470,245.32 L469.9,245.42 L466,245.45 L465,245.45 L457.8,245.48 L455.1,245.37 L453.8,245.1 L451.6,245.37 L448.9,245.45 L447.1,245.31 L444.8,245.31 L443.5,244.62 L441.7,245.16 L440.4,244.73 L439,244.04 L437.7,244.84 L436.3,245.06 L433.6,245.37 L431.9,245.16 L430.6,244.95 L430,244.48 L429.4,244.28 L428.3,244.65 L427.8,244.67 L427,244.32 L424,243.9 L423.4,242.44 L423,241.2 L422.4,244.13 L422.3,244.5 L422.1,245.15 L421.6,245.26 L420.7,245.24 L420,245.21 L418.4,245.34 L412.6,245.34 L410.8,244.6 L409,244.94 L406.8,245.14 L405,245.34 L404.1,245.34 L403.2,245.08 L401.6,244.74 L399.6,245.08 L397.8,244.94 L396.2,244.54 L394.7,245 L392.9,245.08 L389.8,245.08 L388,245.34 L384.4,245.34 L381.9,245 L379.9,245.31 L376.8,245.34 L375,245.14 L372.3,245.19 L370.8,244.6 L368.7,245.34 L362,245.34 L359.3,245.23 L356.2,245.34 L353.5,245.19 L351.3,245.34 L346.8,245.44 L345,245.31 L342.3,245.34 L340,245 L337.4,245.44 L335.6,245.23 L333.3,245.34 L329.8,245.19 L328,245.31 L326.6,245.23 L324.8,245.44 L320.8,245.44 L320.4,244.94 L318.6,244.74 L316.3,244.88 L315.4,243.46 L315,241.75 L314.7,243.46 L313.9,245.19 L312.8,245.44 L309.2,245.44 L306.5,245.27 L304.2,245.34 L302.5,245.14 L299.8,245.08 L298,244.74 L296.2,245.19 L294,245.27 L293,245.34 L291.3,245.45 L290,245.43 L283.5,245.38 L281.8,245.03 L278.7,245.38 L242,245.38 L240.2,245.43 L240,245.42 L236.6,245.14 L234.5,245.06 L232.9,244.96 L231.3,245.35 L230.5,245.31 L225.1,245.23 L223.5,245.12 L221.6,244.94 L218.9,245.28 L216.2,244.94 L212.6,245.34 L211,245.2 L208.6,244.94 L205.5,245.28 L205,245.32 L203.5,245.5 L202.3,245.5 L201.8,245.5 L200.9,245.5 L200.7,245.5 L200.1,245.5 L199.2,245.5 L198.9,245.5 L197.8,245.5 L196,245.5 L195.8,245.5 L194.1,245.5 L193.6,245.5 L192.8,245.5 L192.1,245.5 L192,245.5 L191.7,244.85 L191.6,244.72 L190.9,245.29 L190,245.11 L189.3,244.82 L188.4,244.85 L186.6,245.36 L185.6,243.8 L184.7,243.66 L183.1,245.34 L183,245.34 L177.8,245.47 L176.8,245.28 L176,244.93 L175,245.17 L173.8,245.09 L172.5,244.82 L171.5,244.64 L170.2,244.71 L169,245.14 L168.5,245.5 L167.9,245.5 L167.2,245.5 L166.9,245.5 L166.6,245.5 L165.9,245.5 L165.2,245.5 L164.3,244.87 L163.5,244.92 L162.6,244.97 L161.7,245.09 L160.4,245.13 L160,245.22 L159.5,245.39 L158.6,245.5 L157.5,245.5 L156.4,245.5 L155.3,245.5 L154.5,245.5 L153.4,245.5 L152.6,245.5 L151.9,245.5 L150.9,245.5 L150.6,245.5 L150.2,245.5 L148.8,245.5 L148.4,245.5 L147.9,245.5 L147.5,245.5 L146.8,245.5 L146,245.5 L145.6,244.47 L144.9,244.82 L144,243.45 L142.9,237.53 L141.8,235.32 L140.2,236.81 L139.3,238.73 L138.4,237.03 L137.5,237.31 L136.4,239.18 L135.6,237.8 L134.5,237.53 L133.4,245.44 L128.8,245.44Z" fill="#009b0f" stroke="#009b0f"/><path d="M128.8,245.44 L133.4,245.44 L134.5,237.24 L135.6,237.52 L136.4,238.94 L137.5,237.01 L138.4,236.72 L139.3,238.49 L140.2,236.49 L141.8,234.95 L142.9,237.24 L144,242.31 L144.9,243.12 L145.6,235.25 L146,225.99 L146.8,219.14 L147.5,212.11 L147.9,203.58 L148.4,194.25 L148.8,187.31 L150.2,172.98 L150.6,169.5 L150.9,167.08 L151.9,167.07 L152.6,173.48 L153.4,222.92 L154.5,207.09 L155.3,222.17 L156.4,239.8 L157.5,243.49 L158.6,245.28 L159.5,242.9 L160,241.51 L160.4,240.29 L161.7,240.05 L162.6,238.68 L163.5,236.83 L164.3,234.47 L165.2,216.29 L165.9,201.91 L166.6,198.68 L166.9,196.99 L167.2,198.54 L167.9,201.53 L168.5,216.29 L169,227.94 L170.2,232.78 L171.5,231.68 L172.5,234.7 L173.8,239.02 L175,240.22 L176,236.38 L176.8,241.9 L177.8,244.97 L183,245.13 L183.1,245.13 L184.7,240.79 L185.6,240.9 L186.6,245.11 L188.4,243.4 L189.3,243.18 L190,244.09 L190.9,244.69 L191.6,242.39 L191.7,241.42 L192,233.7 L192.1,231.47 L192.8,183.23 L193.6,150.22 L194.1,145.21 L195.8,145.21 L196,150.22 L197.8,172.15 L198.9,163.35 L199.2,162.08 L200.1,160.58 L200.7,162.08 L200.9,179.34 L201.8,228.86 L202.3,242.07 L203.5,245.4 L205,245.26 L205.5,245.2 L208.6,244.76 L211,245.1 L212.6,245.28 L216.2,244.76 L218.9,245.2 L221.6,244.76 L223.5,245 L225.1,245.14 L230.5,245.24 L231.3,245.3 L232.9,244.78 L234.5,244.92 L236.6,245.02 L240,245.4 L240.2,245.41 L242,245.34 L278.7,245.34 L281.8,244.88 L283.5,245.34 L290,245.41 L291.3,245.44 L293,245.34 L294,245.27 L296.2,245.19 L298,244.74 L299.8,245.08 L302.5,245.14 L304.2,245.34 L306.5,245.27 L309.2,245.44 L312.8,245.44 L313.9,245.19 L314.7,243.46 L315,241.75 L315.4,243.46 L316.3,244.88 L318.6,244.74 L320.4,244.94 L320.8,245.44 L324.8,245.44 L326.6,245.23 L328,245.31 L329.8,245.19 L333.3,245.34 L335.6,245.23 L337.4,245.44 L340,245 L342.3,245.34 L345,245.31 L346.8,245.44 L351.3,245.34 L353.5,245.19 L356.2,245.34 L359.3,245.23 L362,245.34 L368.7,245.34 L370.8,244.6 L372.3,245.19 L375,245.14 L376.8,245.34 L379.9,245.31 L381.9,245 L384.4,245.34 L388,245.34 L389.8,245.08 L392.9,245.08 L394.7,245 L396.2,244.54 L397.8,244.94 L399.6,245.08 L401.6,244.74 L403.2,245.08 L404.1,245.34 L405,245.34 L406.8,245.14 L409,244.94 L410.8,244.6 L412.6,245.34 L418.4,245.34 L420,245.21 L420.7,245.22 L421.6,245.19 L422.1,244.92 L422.3,243.51 L422.4,242.76 L423,237.07 L423.4,239.58 L424,242.44 L427,243.4 L427.8,244.05 L428.3,244.31 L429.4,244.18 L430,244.48 L430.6,244.95 L431.9,245.16 L433.6,245.37 L436.3,245.06 L437.7,244.84 L439,244.04 L440.4,244.73 L441.7,245.16 L443.5,244.62 L444.8,245.31 L447.1,245.31 L448.9,245.45 L451.6,245.37 L453.8,245.1 L455.1,245.37 L457.8,245.48 L465,245.45 L466,245.45 L469.9,245.21 L470,244.82 L471.7,238.3 L473.5,240.03 L474.8,242.05 L476.6,240.32 L478.4,241.38 L479.8,239.35 L481.1,239.35 L482.3,236.95 L483.4,238.68 L484,242.35 L485.6,242.73 L486,243.28 L486.9,244.64 L488.7,243.77 L489,243.95 L491,244.62 L496.3,244.72 L498,245.27 L498.1,245.31 L501,245.42 L502.6,245.39 L504.4,245.32 L506.2,245.26 L508,245.37 L509.8,245.3 L512,245.08 L513.3,245.39 L518.7,245.46 L525,245.46 L527.2,245.35 L528,244.86 L528.8,244.4 L530.4,245.3 L533,245.25 L534.8,244.19 L536.6,242.75 L538,241.96 L539.3,244.44 L540.9,242.84 L541.7,234.03 L542.3,239.02 L543.3,241.56 L544.2,242.75 L546,244.19 L547.8,245.25 L548,245.21 L550.5,244.83 L553.6,245.14 L555.9,245.42 L556,245.42 L558.1,245.36 L559,244.3 L560.4,244.3 L560.9,244.65 L562.6,244.67 L564.8,244.49 L566.6,243.93 L567.8,243.61 L568.9,243.93 L569.8,244.61 L570.8,245.39 L572.3,244.67 L574.7,244.67 L576,244.76 L578.5,244.7 L579.6,245.43 L585,245.47 L594,245.47 L597.5,245.41 L600,245.41 L602.9,245.38 L604,245.17 L604.7,245.04 L607.4,244.9 L609.6,244.54 L611.4,244.99 L613.6,245.17 L615.4,245.04 L617.7,245.13 L619,244.59 L619.9,244.1 L621.7,244.28 L623.3,244.36 L624.4,245.04 L625.3,245.32 L627.5,245.04 L628.9,244.95 L630.7,245.3 L631,245.32 L631.6,245.3 L633.3,244.03 L635,242.59 L636.5,243.45 L637.8,243.29 L639.6,244.6 L640,244.72 L641,245.14 L642,245.2 L643.2,245.11 L645,245.11 L646.8,245.28 L649,245.21 L651.3,245.25 L653.1,244.73 L654.2,244.16 L655.6,244.6 L656.6,245.21 L659.3,245.28 L662.5,245.21 L665.1,245.44 L672,245.44 L674.5,245.31 L675,244.23 L676.3,241.49 L678.1,239.01 L679.5,241.98 L680.8,244.38 L681,244.39 L682.2,244.86 L683,244.82 L683.5,241.68 L683.9,239.65 L685.3,240.91 L686.6,242.92 L688,244.48 L690.7,244.79 L692,245.22 L693.3,245.45 L693.3,245.45 L692,245.22 L690.7,244.79 L688,244.48 L686.6,242.92 L685.3,240.91 L683.9,239.65 L683.5,241.68 L683,244.82 L682.2,244.89 L681,244.49 L680.8,244.48 L679.5,242.3 L678.1,239.6 L676.3,241.85 L675,244.34 L674.5,245.32 L672,245.44 L665.1,245.44 L662.5,245.21 L659.3,245.28 L656.6,245.21 L655.6,244.6 L654.2,244.16 L653.1,244.73 L651.3,245.25 L649,245.21 L646.8,245.28 L645,245.11 L643.2,245.11 L642,245.2 L641,245.14 L640,244.72 L639.6,244.6 L637.8,243.29 L636.5,243.45 L635,242.59 L633.3,244.03 L631.6,245.3 L631,245.32 L630.7,245.3 L628.9,244.95 L627.5,245.04 L625.3,245.32 L624.4,245.04 L623.3,244.36 L621.7,244.28 L619.9,244.1 L619,244.59 L617.7,245.13 L615.4,245.04 L613.6,245.17 L611.4,244.99 L609.6,244.54 L607.4,244.9 L604.7,245.04 L604,245.17 L602.9,245.38 L600,245.41 L597.5,245.41 L594,245.47 L585,245.47 L579.6,245.43 L578.5,244.7 L576,244.76 L574.7,244.67 L572.3,244.67 L570.8,245.39 L569.8,244.61 L568.9,243.93 L567.8,243.61 L566.6,243.93 L564.8,244.49 L562.6,244.67 L560.9,244.65 L560.4,244.3 L559,244.3 L558.1,245.36 L556,245.42 L555.9,245.42 L553.6,245.14 L550.5,244.83 L548,245.21 L547.8,245.25 L546,244.19 L544.2,242.75 L543.3,241.56 L542.3,239.02 L541.7,234.03 L540.9,242.84 L539.3,244.44 L538,241.96 L536.6,242.75 L534.8,244.19 L533,245.25 L530.4,245.3 L528.8,244.4 L528,244.86 L527.2,245.35 L525,245.46 L518.7,245.46 L513.3,245.39 L512,245.08 L509.8,245.3 L508,245.37 L506.2,245.26 L504.4,245.32 L502.6,245.39 L501,245.42 L498.1,245.31 L498,245.27 L496.3,244.72 L491,244.62 L489,243.95 L488.7,243.77 L486.9,244.64 L486,243.28 L485.6,242.73 L484,242.35 L483.4,238.68 L482.3,236.95 L481.1,239.35 L479.8,239.35 L478.4,241.38 L476.6,240.32 L474.8,242.05 L473.5,240.03 L471.7,238.3 L470,244.82 L469.9,245.21 L466,245.45 L465,245.45 L457.8,245.48 L455.1,245.37 L453.8,245.1 L451.6,245.37 L448.9,245.45 L447.1,245.31 L444.8,245.31 L443.5,244.62 L441.7,245.16 L440.4,244.73 L439,244.04 L437.7,244.84 L436.3,245.06 L433.6,245.37 L431.9,245.16 L430.6,244.95 L430,244.48 L429.4,244.18 L428.3,244.31 L427.8,244.05 L427,243.4 L424,242.44 L423.4,239.58 L423,237.07 L422.4,242.76 L422.3,243.51 L422.1,244.92 L421.6,245.19 L420.7,245.22 L420,245.21 L418.4,245.34 L412.6,245.34 L410.8,244.6 L409,244.94 L406.8,245.14 L405,245.34 L404.1,245.34 L403.2,245.08 L401.6,244.74 L399.6,245.08 L397.8,244.94 L396.2,244.54 L394.7,245 L392.9,245.08 L389.8,245.08 L388,245.34 L384.4,245.34 L381.9,245 L379.9,245.31 L376.8,245.34 L375,245.14 L372.3,245.19 L370.8,244.6 L368.7,245.34 L362,245.34 L359.3,245.23 L356.2,245.34 L353.5,245.19 L351.3,245.34 L346.8,245.44 L345,245.31 L342.3,245.34 L340,245 L337.4,245.44 L335.6,245.23 L333.3,245.34 L329.8,245.19 L328,245.31 L326.6,245.23 L324.8,245.44 L320.8,245.44 L320.4,244.94 L318.6,244.74 L316.3,244.88 L315.4,243.46 L315,241.75 L314.7,243.46 L313.9,245.19 L312.8,245.44 L309.2,245.44 L306.5,245.27 L304.2,245.34 L302.5,245.14 L299.8,245.08 L298,244.74 L296.2,245.19 L294,245.27 L293,245.34 L291.3,245.45 L290,245.43 L283.5,245.38 L281.8,245.03 L278.7,245.38 L242,245.38 L240.2,245.42 L240,245.4 L236.6,245.02 L234.5,244.92 L232.9,244.78 L231.3,245.3 L230.5,245.24 L225.1,245.14 L223.5,245 L221.6,244.76 L218.9,245.2 L216.2,244.76 L212.6,245.28 L211,245.1 L208.6,244.76 L205.5,245.2 L205,245.26 L203.5,245.4 L202.3,242.07 L201.8,228.86 L200.9,179.34 L200.7,162.08 L200.1,160.58 L199.2,162.08 L198.9,163.35 L197.8,172.15 L196,150.22 L195.8,145.21 L194.1,145.21 L193.6,150.22 L192.8,183.23 L192.1,231.47 L192,233.7 L191.7,241.42 L191.6,242.39 L190.9,244.69 L190,244.09 L189.3,243.18 L188.4,243.4 L186.6,245.11 L185.6,240.9 L184.7,240.79 L183.1,245.13 L183,245.13 L177.8,244.97 L176.8,241.9 L176,236.38 L175,240.22 L173.8,239.02 L172.5,234.7 L171.5,231.68 L170.2,232.78 L169,227.94 L168.5,216.29 L167.9,201.53 L167.2,198.54 L166.9,196.99 L166.6,198.68 L165.9,201.91 L165.2,216.29 L164.3,234.47 L163.5,236.83 L162.6,238.68 L161.7,240.05 L160.4,240.29 L160,241.51 L159.5,242.9 L158.6,245.28 L157.5,243.49 L156.4,239.8 L155.3,222.17 L154.5,207.09 L153.4,222.92 L152.6,173.48 L151.9,167.07 L150.9,167.08 L150.6,169.5 L150.2,172.98 L148.8,187.31 L148.4,194.25 L147.9,203.58 L147.5,212.11 L146.8,219.14 L146,225.99 L145.6,235.25 L144.9,243.12 L144,242.31 L142.9,237.24 L141.8,234.95 L140.2,236.49 L139.3,238.49 L138.4,236.72 L137.5,237.01 L136.4,238.94 L135.6,237.52 L134.5,237.24 L133.4,245.44 L128.8,245.44Z" fill="#00a4bb" stroke="#00a4bb"/><path d="M128.8,245.44 L133.4,245.44 L134.5,236.8 L135.6,237.1 L136.4,238.6 L137.5,236.56 L138.4,236.26 L139.3,238.12 L140.2,236.02 L141.8,234.4 L142.9,236.8 L144,241.51 L144.9,242.53 L145.6,233.61 L146,222.87 L146.8,215.27 L147.5,208.23 L147.9,199.7 L148.4,190.37 L148.8,183.43 L150.2,169.1 L150.6,165.62 L150.9,163.2 L151.9,163.19 L152.6,171.15 L153.4,222.14 L154.5,203.24 L155.3,220.22 L156.4,239.32 L157.5,243.31 L158.6,245.26 L159.5,242.62 L160,241.05 L160.4,239.65 L161.7,239.28 L162.6,237.62 L163.5,235.17 L164.3,231.95 L165.2,206.55 L165.9,186.96 L166.6,182.09 L166.9,179.53 L167.2,181.93 L167.9,186.49 L168.5,206.55 L169,223.39 L170.2,231.46 L171.5,230.24 L172.5,233.57 L173.8,238.34 L175,239.67 L176,235.43 L176.8,241.53 L177.8,244.92 L183,245.08 L183.1,245.08 L184.7,240.13 L185.6,240.27 L186.6,245.06 L188.4,243.13 L189.3,242.88 L190,243.91 L190.9,244.59 L191.6,242 L191.7,240.88 L192,232.02 L192.1,229.61 L192.8,178.56 L193.6,145.56 L194.1,140.55 L195.8,140.55 L196,146.33 L197.8,170.21 L198.9,158.7 L199.2,156.26 L200.1,152.86 L200.7,156.26 L200.9,176.23 L201.8,228.12 L202.3,241.94 L203.5,245.4 L205,245.21 L205.5,245.12 L208.6,244.57 L211,245 L212.6,245.22 L216.2,244.57 L218.9,245.12 L221.6,244.57 L223.5,244.88 L225.1,245.05 L230.5,245.18 L231.3,245.25 L232.9,244.6 L234.5,244.78 L236.6,244.9 L240,245.37 L240.2,245.38 L242,245.22 L278.7,245.22 L281.8,244.41 L283.5,245.22 L290,245.34 L291.3,245.4 L293,245.29 L294,245.19 L296.2,245.09 L298,244.48 L299.8,244.94 L302.5,245.02 L304.2,245.29 L306.5,245.19 L309.2,245.42 L312.8,245.42 L313.9,245.08 L314.7,242.78 L315,240.5 L315.4,242.78 L316.3,244.68 L318.6,244.48 L320.4,244.76 L320.8,245.42 L324.8,245.42 L326.6,245.15 L328,245.25 L329.8,245.09 L333.3,245.29 L335.6,245.15 L337.4,245.42 L340,244.84 L342.3,245.29 L345,245.25 L346.8,245.42 L351.3,245.29 L353.5,245.09 L356.2,245.29 L359.3,245.15 L362,245.29 L368.7,245.29 L370.8,244.3 L372.3,245.09 L375,245.02 L376.8,245.29 L379.9,245.25 L381.9,244.84 L384.4,245.29 L388,245.29 L389.8,244.94 L392.9,244.94 L394.7,244.84 L396.2,244.22 L397.8,244.76 L399.6,244.94 L401.6,244.48 L403.2,244.94 L404.1,245.29 L405,245.29 L406.8,245.02 L409,244.76 L410.8,244.3 L412.6,245.29 L418.4,245.29 L420,245.12 L420.7,245.12 L421.6,245.08 L422.1,244.72 L422.3,242.84 L422.4,241.85 L423,234.32 L423.4,237.67 L424,241.47 L427,242.79 L427.8,243.63 L428.3,243.99 L429.4,243.84 L430,244.22 L430.6,244.81 L431.9,245.08 L433.6,245.34 L436.3,244.94 L437.7,244.68 L439,243.67 L440.4,244.54 L441.7,245.08 L443.5,244.41 L444.8,245.27 L447.1,245.27 L448.9,245.44 L451.6,245.34 L453.8,245 L455.1,245.34 L457.8,245.47 L465,245.44 L466,245.44 L469.9,245.19 L470,244.77 L471.7,237.82 L473.5,239.66 L474.8,241.82 L476.6,239.98 L478.4,241.1 L479.8,238.94 L481.1,238.94 L482.3,236.38 L483.4,238.22 L484,242.14 L485.6,242.54 L486,243.14 L486.9,244.58 L488.7,243.6 L489,243.79 L491,244.53 L496.3,244.65 L498,245.24 L498.1,245.28 L501,245.34 L502.6,245.29 L504.4,245.15 L506.2,245.02 L508,245.25 L509.8,245.09 L512,244.66 L513.3,245.29 L518.7,245.42 L525,245.42 L527.2,245.29 L528,244.7 L528.8,244.12 L530.4,245.25 L533,245.19 L534.8,243.86 L536.6,242.06 L538,241.08 L539.3,244.18 L540.9,242.18 L541.7,231.16 L542.3,237.4 L543.3,240.58 L544.2,242.06 L546,243.86 L547.8,245.19 L548,245.14 L550.5,244.64 L553.6,245.02 L555.9,245.39 L556,245.39 L558.1,245.3 L559,243.78 L560.4,243.78 L560.9,244.28 L562.6,244.32 L564.8,244.05 L566.6,243.25 L567.8,242.8 L568.9,243.25 L569.8,244.23 L570.8,245.34 L572.3,244.32 L574.7,244.32 L576,244.45 L578.5,244.36 L579.6,245.39 L585,245.46 L594,245.46 L597.5,245.37 L600,245.37 L602.9,245.33 L604,245 L604.7,244.81 L607.4,244.6 L609.6,244.06 L611.4,244.74 L613.6,245 L615.4,244.81 L617.7,244.94 L619,244.13 L619.9,243.4 L621.7,243.67 L623.3,243.79 L624.4,244.81 L625.3,245.23 L627.5,244.81 L628.9,244.68 L630.7,245.19 L631,245.23 L631.6,245.23 L633.3,243.66 L635,241.86 L636.5,242.94 L637.8,242.74 L639.6,244.38 L640,244.52 L641,245.03 L642,245.08 L643.2,244.94 L645,244.94 L646.8,245.19 L649,245.09 L651.3,245.15 L653.1,244.4 L654.2,243.58 L655.6,244.22 L656.6,245.09 L659.3,245.19 L662.5,245.09 L665.1,245.42 L672,245.42 L674.5,245.27 L675,243.99 L676.3,240.76 L678.1,237.83 L679.5,241.34 L680.8,244.17 L681,244.19 L682.2,244.73 L683,244.66 L683.5,240.82 L683.9,238.35 L685.3,239.92 L686.6,242.38 L688,244.27 L690.7,244.65 L692,245.17 L693.3,245.44 L693.3,245.45 L692,245.22 L690.7,244.79 L688,244.48 L686.6,242.92 L685.3,240.91 L683.9,239.65 L683.5,241.68 L683,244.82 L682.2,244.86 L681,244.39 L680.8,244.38 L679.5,241.98 L678.1,239.01 L676.3,241.49 L675,244.23 L674.5,245.31 L672,245.44 L665.1,245.44 L662.5,245.21 L659.3,245.28 L656.6,245.21 L655.6,244.6 L654.2,244.16 L653.1,244.73 L651.3,245.25 L649,245.21 L646.8,245.28 L645,245.11 L643.2,245.11 L642,245.2 L641,245.14 L640,244.72 L639.6,244.6 L637.8,243.29 L636.5,243.45 L635,242.59 L633.3,244.03 L631.6,245.3 L631,245.32 L630.7,245.3 L628.9,244.95 L627.5,245.04 L625.3,245.32 L624.4,245.04 L623.3,244.36 L621.7,244.28 L619.9,244.1 L619,244.59 L617.7,245.13 L615.4,245.04 L613.6,245.17 L611.4,244.99 L609.6,244.54 L607.4,244.9 L604.7,245.04 L604,245.17 L602.9,245.38 L600,245.41 L597.5,245.41 L594,245.47 L585,245.47 L579.6,245.43 L578.5,244.7 L576,244.76 L574.7,244.67 L572.3,244.67 L570.8,245.39 L569.8,244.61 L568.9,243.93 L567.8,243.61 L566.6,243.93 L564.8,244.49 L562.6,244.67 L560.9,244.65 L560.4,244.3 L559,244.3 L558.1,245.36 L556,245.42 L555.9,245.42 L553.6,245.14 L550.5,244.83 L548,245.21 L547.8,245.25 L546,244.19 L544.2,242.75 L543.3,241.56 L542.3,239.02 L541.7,234.03 L540.9,242.84 L539.3,244.44 L538,241.96 L536.6,242.75 L534.8,244.19 L533,245.25 L530.4,245.3 L528.8,244.4 L528,244.86 L527.2,245.35 L525,245.46 L518.7,245.46 L513.3,245.39 L512,245.08 L509.8,245.3 L508,245.37 L506.2,245.26 L504.4,245.32 L502.6,245.39 L501,245.42 L498.1,245.31 L498,245.27 L496.3,244.72 L491,244.62 L489,243.95 L488.7,243.77 L486.9,244.64 L486,243.28 L485.6,242.73 L484,242.35 L483.4,238.68 L482.3,236.95 L481.1,239.35 L479.8,239.35 L478.4,241.38 L476.6,240.32 L474.8,242.05 L473.5,240.03 L471.7,238.3 L470,244.82 L469.9,245.21 L466,245.45 L465,245.45 L457.8,245.48 L455.1,245.37 L453.8,245.1 L451.6,245.37 L448.9,245.45 L447.1,245.31 L444.8,245.31 L443.5,244.62 L441.7,245.16 L440.4,244.73 L439,244.04 L437.7,244.84 L436.3,245.06 L433.6,245.37 L431.9,245.16 L430.6,244.95 L430,244.48 L429.4,244.18 L428.3,244.31 L427.8,244.05 L427,243.4 L424,242.44 L423.4,239.58 L423,237.07 L422.4,242.76 L422.3,243.51 L422.1,244.92 L421.6,245.19 L420.7,245.22 L420,245.21 L418.4,245.34 L412.6,245.34 L410.8,244.6 L409,244.94 L406.8,245.14 L405,245.34 L404.1,245.34 L403.2,245.08 L401.6,244.74 L399.6,245.08 L397.8,244.94 L396.2,244.54 L394.7,245 L392.9,245.08 L389.8,245.08 L388,245.34 L384.4,245.34 L381.9,245 L379.9,245.31 L376.8,245.34 L375,245.14 L372.3,245.19 L370.8,244.6 L368.7,245.34 L362,245.34 L359.3,245.23 L356.2,245.34 L353.5,245.19 L351.3,245.34 L346.8,245.44 L345,245.31 L342.3,245.34 L340,245 L337.4,245.44 L335.6,245.23 L333.3,245.34 L329.8,245.19 L328,245.31 L326.6,245.23 L324.8,245.44 L320.8,245.44 L320.4,244.94 L318.6,244.74 L316.3,244.88 L315.4,243.46 L315,241.75 L314.7,243.46 L313.9,245.19 L312.8,245.44 L309.2,245.44 L306.5,245.27 L304.2,245.34 L302.5,245.14 L299.8,245.08 L298,244.74 L296.2,245.19 L294,245.27 L293,245.34 L291.3,245.44 L290,245.41 L283.5,245.34 L281.8,244.88 L278.7,245.34 L242,245.34 L240.2,245.41 L240,245.4 L236.6,245.02 L234.5,244.92 L232.9,244.78 L231.3,245.3 L230.5,245.24 L225.1,245.14 L223.5,245 L221.6,244.76 L218.9,245.2 L216.2,244.76 L212.6,245.28 L211,245.1 L208.6,244.76 L205.5,245.2 L205,245.26 L203.5,245.4 L202.3,242.07 L201.8,228.86 L200.9,179.34 L200.7,162.08 L200.1,160.58 L199.2,162.08 L198.9,163.35 L197.8,172.15 L196,150.22 L195.8,145.21 L194.1,145.21 L193.6,150.22 L192.8,183.23 L192.1,231.47 L192,233.7 L191.7,241.42 L191.6,242.39 L190.9,244.69 L190,244.09 L189.3,243.18 L188.4,243.4 L186.6,245.11 L185.6,240.9 L184.7,240.79 L183.1,245.13 L183,245.13 L177.8,244.97 L176.8,241.9 L176,236.38 L175,240.22 L173.8,239.02 L172.5,234.7 L171.5,231.68 L170.2,232.78 L169,227.94 L168.5,216.29 L167.9,201.53 L167.2,198.54 L166.9,196.99 L166.6,198.68 L165.9,201.91 L165.2,216.29 L164.3,234.47 L163.5,236.83 L162.6,238.68 L161.7,240.05 L160.4,240.29 L160,241.51 L159.5,242.9 L158.6,245.28 L157.5,243.49 L156.4,239.8 L155.3,222.17 L154.5,207.09 L153.4,222.92 L152.6,173.48 L151.9,167.07 L150.9,167.08 L150.6,169.5 L150.2,172.98 L148.8,187.31 L148.4,194.25 L147.9,203.58 L147.5,212.11 L146.8,219.14 L146,225.99 L145.6,235.25 L144.9,243.12 L144,242.31 L142.9,237.24 L141.8,234.95 L140.2,236.49 L139.3,238.49 L138.4,236.72 L137.5,237.01 L136.4,238.94 L135.6,237.52 L134.5,237.24 L133.4,245.44 L128.8,245.44Z" fill="#0035dd" stroke="#0035dd"/><path d="M128.8,245.4 L133.4,245.4 L134.5,231 L135.6,231.5 L136.4,234 L137.5,230.6 L138.4,230.1 L139.3,233.2 L140.2,229.7 L141.8,227 L142.9,231 L144,234.1 L144.9,237 L145.6,225 L146,210 L146.8,180 L147.5,150 L147.9,105 L148.4,84 L148.8,69 L150.2,64 L150.6,52 L150.9,41.3 L151.9,44 L152.6,115.87 L153.4,198 L154.5,158.3 L155.3,214 L156.4,236 L157.5,242 L158.6,245.1 L159.5,240 L160,236.22 L160.4,233.2 L161.7,232 L162.6,228 L163.5,222 L164.3,214 L165.2,175 L165.9,130 L166.6,108 L166.9,96.1 L167.2,108 L167.9,130 L168.5,175 L169,205 L170.2,219 L171.5,216.7 L172.5,223 L173.8,232 L175,234.5 L176,226.5 L176.8,238 L177.8,244.4 L183,244.44 L183.1,244.44 L184.7,232.4 L185.6,232.9 L186.6,244.44 L188.4,240 L189.3,239.5 L190,241.9 L190.9,243.45 L191.6,237.72 L191.7,236.9 L192,228.65 L192.1,225.9 L192.8,170 L193.6,130 L194.1,80.3 L195.8,80.3 L196,130 L197.8,164 L198.9,137 L199.2,100 L200.1,55.2 L200.7,100 L200.9,170 L201.8,225.9 L202.3,240.9 L203.5,245.3 L205,244.32 L205.5,244 L208.6,241.8 L211,243.5 L212.6,244.4 L216.2,241.8 L218.9,244 L221.6,241.8 L223.5,243 L225.1,243.7 L230.5,244.2 L231.3,244.5 L232.9,241.9 L234.5,242.6 L236.6,243.1 L240,244.99 L240.2,245.1 L242,245.1 L278.7,245.1 L281.8,243.95 L283.5,245.1 L290,245.27 L291.3,245.3 L293,244.45 L294,243.95 L296.2,243.45 L298,240.4 L299.8,242.7 L302.5,243.1 L304.2,244.44 L306.5,243.95 L309.2,245.1 L312.8,245.1 L313.9,243.4 L314.7,231.9 L315,220.5 L315.4,231.9 L316.3,241.4 L318.6,240.4 L320.4,241.8 L320.8,245.1 L324.8,245.1 L326.6,243.73 L328,244.22 L329.8,243.45 L333.3,244.44 L335.6,243.73 L337.4,245.1 L340,242.2 L342.3,244.44 L345,244.22 L346.8,245.1 L351.3,244.44 L353.5,243.45 L356.2,244.44 L359.3,243.73 L362,244.44 L368.7,244.44 L370.8,239.5 L372.3,243.45 L375,243.1 L376.8,244.44 L379.9,244.22 L381.9,242.2 L384.4,244.44 L388,244.44 L389.8,242.7 L392.9,242.7 L394.7,242.2 L396.2,239.1 L397.8,241.8 L399.6,242.7 L401.6,240.4 L403.2,242.7 L404.1,244.44 L405,244.44 L406.8,243.1 L409,241.8 L410.8,239.5 L412.6,244.44 L418.4,244.44 L420,243.58 L420.7,243.2 L421.6,241.9 L422.1,236.9 L422.3,212.3 L422.4,200 L423,108 L423.4,150 L424,197 L427,214.9 L427.8,224.75 L428.3,230.9 L429.4,233.1 L430,237 L430.6,240.9 L431.9,242.7 L433.6,244.44 L436.3,241.8 L437.7,240 L439,233.3 L440.4,239.1 L441.7,242.7 L443.5,238.2 L444.8,243.95 L447.1,243.95 L448.9,245.1 L451.6,244.44 L453.8,242.2 L455.1,244.44 L457.8,245.3 L465,245.1 L466,245.1 L469.9,245.1 L470,244.59 L471.7,235.9 L473.5,238.2 L474.8,240.9 L476.6,238.6 L478.4,240 L479.8,237.3 L481.1,237.3 L482.3,234.1 L483.4,236.4 L484,241.3 L485.6,241.8 L486,242.55 L486.9,244.22 L488.7,242.2 L489,242.4 L491,243.73 L496.3,243.95 L498,245.04 L498.1,245.1 L501,244.68 L502.6,244.44 L504.4,243.73 L506.2,243.1 L508,244.22 L509.8,243.45 L512,241.3 L513.3,244.44 L518.7,245.1 L525,245.1 L527.2,244.44 L528,241.52 L528.8,238.6 L530.4,244.22 L533,243.95 L534.8,237.3 L536.6,228.3 L538,223.4 L539.3,238.9 L540.9,228.9 L541.7,173.8 L542.3,205 L543.3,220.9 L544.2,228.3 L546,237.3 L547.8,243.95 L548,243.69 L550.5,240.4 L553.6,241.8 L555.9,244.44 L556,244.4 L558.1,243.45 L559,228.3 L560.4,228.3 L560.9,233.3 L562.6,233.7 L564.8,231 L566.6,223 L567.8,218.5 L568.9,223 L569.8,232.8 L570.8,243.95 L572.3,233.7 L574.7,233.7 L576,235 L578.5,234.1 L579.6,244.44 L585,245.1 L594,245.1 L597.5,244.22 L600,244.22 L602.9,244.22 L604,242.19 L604.7,240.9 L607.4,239.5 L609.6,235.9 L611.4,240.4 L613.6,242.2 L615.4,240.9 L617.7,241.8 L619,236.4 L619.9,231.5 L621.7,233.3 L623.3,234.1 L624.4,240.9 L625.3,243.73 L627.5,240.9 L628.9,240 L630.7,243.45 L631,243.71 L631.6,244.22 L633.3,240.9 L635,236.4 L636.5,239.1 L637.8,238.6 L639.6,242.7 L640,243.06 L641,243.95 L642,243.38 L643.2,242.7 L645,242.7 L646.8,243.95 L649,243.45 L651.3,243.73 L653.1,240 L654.2,235.9 L655.6,239.1 L656.6,243.45 L659.3,243.95 L662.5,243.45 L665.1,245.1 L672,245.1 L674.5,245.1 L675,243.18 L676.3,238.2 L678.1,233.7 L679.5,239.1 L680.8,243.45 L681,243.49 L682.2,243.68 L683,242.4 L683.5,228.3 L683.9,219.4 L685.3,225.6 L686.6,234.6 L688,241.3 L690.7,242.7 L692,244.44 L693.3,245.3 L693.3,245.44 L692,245.17 L690.7,244.65 L688,244.27 L686.6,242.38 L685.3,239.92 L683.9,238.35 L683.5,240.82 L683,244.66 L682.2,244.73 L681,244.19 L680.8,244.17 L679.5,241.34 L678.1,237.83 L676.3,240.76 L675,243.99 L674.5,245.27 L672,245.42 L665.1,245.42 L662.5,245.09 L659.3,245.19 L656.6,245.09 L655.6,244.22 L654.2,243.58 L653.1,244.4 L651.3,245.15 L649,245.09 L646.8,245.19 L645,244.94 L643.2,244.94 L642,245.08 L641,245.03 L640,244.52 L639.6,244.38 L637.8,242.74 L636.5,242.94 L635,241.86 L633.3,243.66 L631.6,245.23 L631,245.23 L630.7,245.19 L628.9,244.68 L627.5,244.81 L625.3,245.23 L624.4,244.81 L623.3,243.79 L621.7,243.67 L619.9,243.4 L619,244.13 L617.7,244.94 L615.4,244.81 L613.6,245 L611.4,244.74 L609.6,244.06 L607.4,244.6 L604.7,244.81 L604,245 L602.9,245.33 L600,245.37 L597.5,245.37 L594,245.46 L585,245.46 L579.6,245.39 L578.5,244.36 L576,244.45 L574.7,244.32 L572.3,244.32 L570.8,245.34 L569.8,244.23 L568.9,243.25 L567.8,242.8 L566.6,243.25 L564.8,244.05 L562.6,244.32 L560.9,244.28 L560.4,243.78 L559,243.78 L558.1,245.3 L556,245.39 L555.9,245.39 L553.6,245.02 L550.5,244.64 L548,245.14 L547.8,245.19 L546,243.86 L544.2,242.06 L543.3,240.58 L542.3,237.4 L541.7,231.16 L540.9,242.18 L539.3,244.18 L538,241.08 L536.6,242.06 L534.8,243.86 L533,245.19 L530.4,245.25 L528.8,244.12 L528,244.7 L527.2,245.29 L525,245.42 L518.7,245.42 L513.3,245.29 L512,244.66 L509.8,245.09 L508,245.25 L506.2,245.02 L504.4,245.15 L502.6,245.29 L501,245.34 L498.1,245.28 L498,245.24 L496.3,244.65 L491,244.53 L489,243.79 L488.7,243.6 L486.9,244.58 L486,243.14 L485.6,242.54 L484,242.14 L483.4,238.22 L482.3,236.38 L481.1,238.94 L479.8,238.94 L478.4,241.1 L476.6,239.98 L474.8,241.82 L473.5,239.66 L471.7,237.82 L470,244.77 L469.9,245.19 L466,245.44 L465,245.44 L457.8,245.47 L455.1,245.34 L453.8,245 L451.6,245.34 L448.9,245.44 L447.1,245.27 L444.8,245.27 L443.5,244.41 L441.7,245.08 L440.4,244.54 L439,243.67 L437.7,244.68 L436.3,244.94 L433.6,245.34 L431.9,245.08 L430.6,244.81 L430,244.22 L429.4,243.84 L428.3,243.99 L427.8,243.63 L427,242.79 L424,241.47 L423.4,237.67 L423,234.32 L422.4,241.85 L422.3,242.84 L422.1,244.72 L421.6,245.08 L420.7,245.12 L420,245.12 L418.4,245.29 L412.6,245.29 L410.8,244.3 L409,244.76 L406.8,245.02 L405,245.29 L404.1,245.29 L403.2,244.94 L401.6,244.48 L399.6,244.94 L397.8,244.76 L396.2,244.22 L394.7,244.84 L392.9,244.94 L389.8,244.94 L388,245.29 L384.4,245.29 L381.9,244.84 L379.9,245.25 L376.8,245.29 L375,245.02 L372.3,245.09 L370.8,244.3 L368.7,245.29 L362,245.29 L359.3,245.15 L356.2,245.29 L353.5,245.09 L351.3,245.29 L346.8,245.42 L345,245.25 L342.3,245.29 L340,244.84 L337.4,245.42 L335.6,245.15 L333.3,245.29 L329.8,245.09 L328,245.25 L326.6,245.15 L324.8,245.42 L320.8,245.42 L320.4,244.76 L318.6,244.48 L316.3,244.68 L315.4,242.78 L315,240.5 L314.7,242.78 L313.9,245.08 L312.8,245.42 L309.2,245.42 L306.5,245.19 L304.2,245.29 L302.5,245.02 L299.8,244.94 L298,244.48 L296.2,245.09 L294,245.19 L293,245.29 L291.3,245.4 L290,245.34 L283.5,245.22 L281.8,244.41 L278.7,245.22 L242,245.22 L240.2,245.38 L240,245.37 L236.6,244.9 L234.5,244.78 L232.9,244.6 L231.3,245.25 L230.5,245.18 L225.1,245.05 L223.5,244.88 L221.6,244.57 L218.9,245.12 L216.2,244.57 L212.6,245.22 L211,245 L208.6,244.57 L205.5,245.12 L205,245.21 L203.5,245.4 L202.3,241.94 L201.8,228.12 L200.9,176.23 L200.7,156.26 L200.1,152.86 L199.2,156.26 L198.9,158.7 L197.8,170.21 L196,146.33 L195.8,140.55 L194.1,140.55 L193.6,145.56 L192.8,178.56 L192.1,229.61 L192,232.02 L191.7,240.88 L191.6,242 L190.9,244.59 L190,243.91 L189.3,242.88 L188.4,243.13 L186.6,245.06 L185.6,240.27 L184.7,240.13 L183.1,245.08 L183,245.08 L177.8,244.92 L176.8,241.53 L176,235.43 L175,239.67 L173.8,238.34 L172.5,233.57 L171.5,230.24 L170.2,231.46 L169,223.39 L168.5,206.55 L167.9,186.49 L167.2,181.93 L166.9,179.53 L166.6,182.09 L165.9,186.96 L165.2,206.55 L164.3,231.95 L163.5,235.17 L162.6,237.62 L161.7,239.28 L160.4,239.65 L160,241.05 L159.5,242.62 L158.6,245.26 L157.5,243.31 L156.4,239.32 L155.3,220.22 L154.5,203.24 L153.4,222.14 L152.6,171.15 L151.9,163.19 L150.9,163.2 L150.6,165.62 L150.2,169.1 L148.8,183.43 L148.4,190.37 L147.9,199.7 L147.5,208.23 L146.8,215.27 L146,222.87 L145.6,233.61 L144.9,242.53 L144,241.51 L142.9,236.8 L141.8,234.4 L140.2,236.02 L139.3,238.12 L138.4,236.26 L137.5,236.56 L136.4,238.6 L135.6,237.1 L134.5,236.8 L133.4,245.44 L128.8,245.44Z" fill="#6a009d" stroke="#6a009d"/><path d="M128.8,245.4 L133.4,245.4 L134.5,231 L135.6,231.5 L136.4,234 L137.5,230.6 L138.4,230.1 L139.3,233.2 L140.2,229.7 L141.8,227 L142.9,231 L144,234.1 L144.9,237 L145.6,225 L146,210 L146.8,180 L147.5,150 L147.9,105 L148.4,84 L148.8,69 L150.2,64 L150.6,52 L150.9,41.3 L151.9,44 L152.6,115.87 L153.4,198 L154.5,158.3 L155.3,214 L156.4,236 L157.5,242 L158.6,245.1 L159.5,240 L160,236.22 L160.4,233.2 L161.7,232 L162.6,228 L163.5,222 L164.3,214 L165.2,175 L165.9,130 L166.6,108 L166.9,96.1 L167.2,108 L167.9,130 L168.5,175 L169,205 L170.2,219 L171.5,216.7 L172.5,223 L173.8,232 L175,234.5 L176,226.5 L176.8,238 L177.8,244.4 L183,244.44 L183.1,244.44 L184.7,232.4 L185.6,232.9 L186.6,244.44 L188.4,240 L189.3,239.5 L190,241.9 L190.9,243.45 L191.6,237.72 L191.7,236.9 L192,228.65 L192.1,225.9 L192.8,170 L193.6,130 L194.1,80.3 L195.8,80.3 L196,130 L197.8,164 L198.9,137 L199.2,100 L200.1,55.2 L200.7,100 L200.9,170 L201.8,225.9 L202.3,240.9 L203.5,245.3 L205,244.32 L205.5,244 L208.6,241.8 L211,243.5 L212.6,244.4 L216.2,241.8 L218.9,244 L221.6,241.8 L223.5,243 L225.1,243.7 L230.5,244.2 L231.3,244.5 L232.9,241.9 L234.5,242.6 L236.6,243.1 L240,244.99 L240.2,245.1 L242,245.1 L278.7,245.1 L281.8,243.95 L283.5,245.1 L290,245.27 L291.3,245.3 L293,244.45 L294,243.95 L296.2,243.45 L298,240.4 L299.8,242.7 L302.5,243.1 L304.2,244.44 L306.5,243.95 L309.2,245.1 L312.8,245.1 L313.9,243.4 L314.7,231.9 L315,220.5 L315.4,231.9 L316.3,241.4 L318.6,240.4 L320.4,241.8 L320.8,245.1 L324.8,245.1 L326.6,243.73 L328,244.22 L329.8,243.45 L333.3,244.44 L335.6,243.73 L337.4,245.1 L340,242.2 L342.3,244.44 L345,244.22 L346.8,245.1 L351.3,244.44 L353.5,243.45 L356.2,244.44 L359.3,243.73 L362,244.44 L368.7,244.44 L370.8,239.5 L372.3,243.45 L375,243.1 L376.8,244.44 L379.9,244.22 L381.9,242.2 L384.4,244.44 L388,244.44 L389.8,242.7 L392.9,242.7 L394.7,242.2 L396.2,239.1 L397.8,241.8 L399.6,242.7 L401.6,240.4 L403.2,242.7 L404.1,244.44 L405,244.44 L406.8,243.1 L409,241.8 L410.8,239.5 L412.6,244.44 L418.4,244.44 L420,243.58 L420.7,243.2 L421.6,241.9 L422.1,236.9 L422.3,212.3 L422.4,200 L423,108 L423.4,150 L424,197 L427,214.9 L427.8,224.75 L428.3,230.9 L429.4,233.1 L430,237 L430.6,240.9 L431.9,242.7 L433.6,244.44 L436.3,241.8 L437.7,240 L439,233.3 L440.4,239.1 L441.7,242.7 L443.5,238.2 L444.8,243.95 L447.1,243.95 L448.9,245.1 L451.6,244.44 L453.8,242.2 L455.1,244.44 L457.8,245.3 L465,245.1 L466,245.1 L469.9,245.1 L470,244.59 L471.7,235.9 L473.5,238.2 L474.8,240.9 L476.6,238.6 L478.4,240 L479.8,237.3 L481.1,237.3 L482.3,234.1 L483.4,236.4 L484,241.3 L485.6,241.8 L486,242.55 L486.9,244.22 L488.7,242.2 L489,242.4 L491,243.73 L496.3,243.95 L498,245.04 L498.1,245.1 L501,244.68 L502.6,244.44 L504.4,243.73 L506.2,243.1 L508,244.22 L509.8,243.45 L512,241.3 L513.3,244.44 L518.7,245.1 L525,245.1 L527.2,244.44 L528,241.52 L528.8,238.6 L530.4,244.22 L533,243.95 L534.8,237.3 L536.6,228.3 L538,223.4 L539.3,238.9 L540.9,228.9 L541.7,173.8 L542.3,205 L543.3,220.9 L544.2,228.3 L546,237.3 L547.8,243.95 L548,243.69 L550.5,240.4 L553.6,241.8 L555.9,244.44 L556,244.4 L558.1,243.45 L559,228.3 L560.4,228.3 L560.9,233.3 L562.6,233.7 L564.8,231 L566.6,223 L567.8,218.5 L568.9,223 L569.8,232.8 L570.8,243.95 L572.3,233.7 L574.7,233.7 L576,235 L578.5,234.1 L579.6,244.44 L585,245.1 L594,245.1 L597.5,244.22 L600,244.22 L602.9,244.22 L604,242.19 L604.7,240.9 L607.4,239.5 L609.6,235.9 L611.4,240.4 L613.6,242.2 L615.4,240.9 L617.7,241.8 L619,236.4 L619.9,231.5 L621.7,233.3 L623.3,234.1 L624.4,240.9 L625.3,243.73 L627.5,240.9 L628.9,240 L630.7,243.45 L631,243.71 L631.6,244.22 L633.3,240.9 L635,236.4 L636.5,239.1 L637.8,238.6 L639.6,242.7 L640,243.06 L641,243.95 L642,243.38 L643.2,242.7 L645,242.7 L646.8,243.95 L649,243.45 L651.3,243.73 L653.1,240 L654.2,235.9 L655.6,239.1 L656.6,243.45 L659.3,243.95 L662.5,243.45 L665.1,245.1 L672,245.1 L674.5,245.1 L675,243.18 L676.3,238.2 L678.1,233.7 L679.5,239.1 L680.8,243.45 L681,243.49 L682.2,243.68 L683,242.4 L683.5,228.3 L683.9,219.4 L685.3,225.6 L686.6,234.6 L688,241.3 L690.7,242.7 L692,244.44 L693.3,245.3 L693.3,245.3 L692,244.44 L690.7,242.7 L688,241.3 L686.6,234.6 L685.3,225.6 L683.9,219.4 L683.5,228.3 L683,242.4 L682.2,243.68 L681,243.49 L680.8,243.45 L679.5,239.1 L678.1,233.7 L676.3,238.2 L675,243.18 L674.5,245.1 L672,245.1 L665.1,245.1 L662.5,243.45 L659.3,243.95 L656.6,243.45 L655.6,239.1 L654.2,235.9 L653.1,240 L651.3,243.73 L649,243.45 L646.8,243.95 L645,242.7 L643.2,242.7 L642,243.38 L641,243.95 L640,243.06 L639.6,242.7 L637.8,238.6 L636.5,239.1 L635,236.4 L633.3,240.9 L631.6,244.22 L631,243.71 L630.7,243.45 L628.9,240 L627.5,240.9 L625.3,243.73 L624.4,240.9 L623.3,234.1 L621.7,233.3 L619.9,231.5 L619,236.4 L617.7,241.8 L615.4,240.9 L613.6,242.2 L611.4,240.4 L609.6,235.9 L607.4,239.5 L604.7,240.9 L604,242.19 L602.9,244.22 L600,244.22 L597.5,244.22 L594,245.1 L585,245.1 L579.6,244.44 L578.5,234.1 L576,235 L574.7,233.7 L572.3,233.7 L570.8,243.95 L569.8,232.8 L568.9,223 L567.8,218.5 L566.6,223 L564.8,231 L562.6,233.7 L560.9,233.3 L560.4,228.3 L559,228.3 L558.1,243.45 L556,244.4 L555.9,244.44 L553.6,241.8 L550.5,240.4 L548,243.69 L547.8,243.95 L546,237.3 L544.2,228.3 L543.3,220.9 L542.3,205 L541.7,173.8 L540.9,228.9 L539.3,238.9 L538,223.4 L536.6,228.3 L534.8,237.3 L533,243.95 L530.4,244.22 L528.8,238.6 L528,241.52 L527.2,244.44 L525,245.1 L518.7,245.1 L513.3,244.44 L512,241.3 L509.8,243.45 L508,244.22 L506.2,243.1 L504.4,243.73 L502.6,244.44 L501,244.68 L498.1,245.1 L498,245.04 L496.3,243.95 L491,243.73 L489,242.4 L488.7,242.2 L486.9,244.22 L486,242.55 L485.6,241.8 L484,241.3 L483.4,236.4 L482.3,234.1 L481.1,237.3 L479.8,237.3 L478.4,240 L476.6,238.6 L474.8,240.9 L473.5,238.2 L471.7,235.9 L470,244.59 L469.9,245.1 L466,245.1 L465,245.1 L457.8,245.3 L455.1,244.44 L453.8,242.2 L451.6,244.44 L448.9,245.1 L447.1,243.95 L444.8,243.95 L443.5,238.2 L441.7,242.7 L440.4,239.1 L439,233.3 L437.7,240 L436.3,241.8 L433.6,244.44 L431.9,242.7 L430.6,240.9 L430,237 L429.4,233.1 L428.3,230.9 L427.8,224.75 L427,214.9 L424,197 L423.4,150 L423,108 L422.4,200 L422.3,212.3 L422.1,236.9 L421.6,241.9 L420.7,243.2 L420,243.58 L418.4,244.44 L412.6,244.44 L410.8,239.5 L409,241.8 L406.8,243.1 L405,244.44 L404.1,244.44 L403.2,242.7 L401.6,240.4 L399.6,242.7 L397.8,241.8 L396.2,239.1 L394.7,242.2 L392.9,242.7 L389.8,242.7 L388,244.44 L384.4,244.44 L381.9,242.2 L379.9,244.22 L376.8,244.44 L375,243.1 L372.3,243.45 L370.8,239.5 L368.7,244.44 L362,244.44 L359.3,243.73 L356.2,244.44 L353.5,243.45 L351.3,244.44 L346.8,245.1 L345,244.22 L342.3,244.44 L340,242.2 L337.4,245.1 L335.6,243.73 L333.3,244.44 L329.8,243.45 L328,244.22 L326.6,243.73 L324.8,245.1 L320.8,245.1 L320.4,241.8 L318.6,240.4 L316.3,241.4 L315.4,231.9 L315,220.5 L314.7,231.9 L313.9,243.4 L312.8,245.1 L309.2,245.1 L306.5,243.95 L304.2,244.44 L302.5,243.1 L299.8,242.7 L298,240.4 L296.2,243.45 L294,243.95 L293,244.45 L291.3,245.3 L290,245.27 L283.5,245.1 L281.8,243.95 L278.7,245.1 L242,245.1 L240.2,245.1 L240,244.99 L236.6,243.1 L234.5,242.6 L232.9,241.9 L231.3,244.5 L230.5,244.2 L225.1,243.7 L223.5,243 L221.6,241.8 L218.9,244 L216.2,241.8 L212.6,244.4 L211,243.5 L208.6,241.8 L205.5,244 L205,244.32 L203.5,245.3 L202.3,240.9 L201.8,225.9 L200.9,170 L200.7,100 L200.1,55.2 L199.2,100 L198.9,137 L197.8,164 L196,130 L195.8,80.3 L194.1,80.3 L193.6,130 L192.8,170 L192.1,225.9 L192,228.65 L191.7,236.9 L191.6,237.72 L190.9,243.45 L190,241.9 L189.3,239.5 L188.4,240 L186.6,244.44 L185.6,232.9 L184.7,232.4 L183.1,244.44 L183,244.44 L177.8,244.4 L176.8,238 L176,226.5 L175,234.5 L173.8,232 L172.5,223 L171.5,216.7 L170.2,219 L169,205 L168.5,175 L167.9,130 L167.2,108 L166.9,96.1 L166.6,108 L165.9,130 L165.2,175 L164.3,214 L163.5,222 L162.6,228 L161.7,232 L160.4,233.2 L160,236.22 L159.5,240 L158.6,245.1 L157.5,242 L156.4,236 L155.3,214 L154.5,158.3 L153.4,198 L152.6,115.87 L151.9,44 L150.9,41.3 L150.6,52 L150.2,64 L148.8,69 L148.4,84 L147.9,105 L147.5,150 L146.8,180 L146,210 L145.6,225 L144.9,237 L144,234.1 L142.9,231 L141.8,227 L140.2,229.7 L139.3,233.2 L138.4,230.1 L137.5,230.6 L136.4,234 L135.6,231.5 L134.5,231 L133.4,245.4 L128.8,245.4Z" fill="#000000" stroke="#000000"/></g><path d="M128.8,245.4 L133.4,245.4 L134.5,231 L135.6,231.5 L136.4,234 L137.5,230.6 L138.4,230.1 L139.3,233.2 L140.2,229.7 L141.8,227 L142.9,231 L144,234.1 L144.9,237 L145.6,225 L146,210 L146.8,180 L147.5,150 L147.9,105 L148.4,84 L148.8,69 L150.2,64 L150.6,52 L150.9,41.3 L151.9,44 L153.4,198 L154.5,158.3 L155.3,214 L156.4,236 L157.5,242 L158.6,245.1 L159.5,240 L160.4,233.2 L161.7,232 L162.6,228 L163.5,222 L164.3,214 L165.2,175 L165.9,130 L166.6,108 L166.9,96.1 L167.2,108 L167.9,130 L168.5,175 L169,205 L170.2,219 L171.5,216.7 L172.5,223 L173.8,232 L175,234.5 L176,226.5 L176.8,238 L177.8,244.4 L183.1,244.44 L184.7,232.4 L185.6,232.9 L186.6,244.44 L188.4,240 L189.3,239.5 L190,241.9 L190.9,243.45 L191.7,236.9 L192.1,225.9 L192.8,170 L193.6,130 L194.1,80.3 L195.8,80.3 L196,130 L197.8,164 L198.9,137 L199.2,100 L200.1,55.2 L200.7,100 L200.9,170 L201.8,225.9 L202.3,240.9 L203.5,245.3 L205.5,244 L208.6,241.8 L211,243.5 L212.6,244.4 L216.2,241.8 L218.9,244 L221.6,241.8 L223.5,243 L225.1,243.7 L230.5,244.2 L231.3,244.5 L232.9,241.9 L234.5,242.6 L236.6,243.1 L240.2,245.1 L278.7,245.1 L281.8,243.95 L283.5,245.1 L291.3,245.3 L294,243.95 L296.2,243.45 L298,240.4 L299.8,242.7 L302.5,243.1 L304.2,244.44 L306.5,243.95 L309.2,245.1 L312.8,245.1 L313.9,243.4 L314.7,231.9 L315,220.5 L315.4,231.9 L316.3,241.4 L318.6,240.4 L320.4,241.8 L320.8,245.1 L324.8,245.1 L326.6,243.73 L328,244.22 L329.8,243.45 L333.3,244.44 L335.6,243.73 L337.4,245.1 L340,242.2 L342.3,244.44 L345,244.22 L346.8,245.1 L351.3,244.44 L353.5,243.45 L356.2,244.44 L359.3,243.73 L362,244.44 L368.7,244.44 L370.8,239.5 L372.3,243.45 L375,243.1 L376.8,244.44 L379.9,244.22 L381.9,242.2 L384.4,244.44 L388,244.44 L389.8,242.7 L392.9,242.7 L394.7,242.2 L396.2,239.1 L397.8,241.8 L399.6,242.7 L401.6,240.4 L403.2,242.7 L404.1,244.44 L405,244.44 L406.8,243.1 L409,241.8 L410.8,239.5 L412.6,244.44 L418.4,244.44 L420.7,243.2 L421.6,241.9 L422.1,236.9 L422.4,200 L423,108 L423.4,150 L424,197 L427,214.9 L428.3,230.9 L429.4,233.1 L430.6,240.9 L431.9,242.7 L433.6,244.44 L436.3,241.8 L437.7,240 L439,233.3 L440.4,239.1 L441.7,242.7 L443.5,238.2 L444.8,243.95 L447.1,243.95 L448.9,245.1 L451.6,244.44 L453.8,242.2 L455.1,244.44 L457.8,245.3 L465,245.1 L469.9,245.1 L471.7,235.9 L473.5,238.2 L474.8,240.9 L476.6,238.6 L478.4,240 L479.8,237.3 L481.1,237.3 L482.3,234.1 L483.4,236.4 L484,241.3 L485.6,241.8 L486.9,244.22 L488.7,242.2 L491,243.73 L496.3,243.95 L498.1,245.1 L502.6,244.44 L504.4,243.73 L506.2,243.1 L508,244.22 L509.8,243.45 L512,241.3 L513.3,244.44 L518.7,245.1 L525,245.1 L527.2,244.44 L528.8,238.6 L530.4,244.22 L533,243.95 L534.8,237.3 L536.6,228.3 L538,223.4 L539.3,238.9 L540.9,228.9 L541.7,173.8 L542.3,205 L543.3,220.9 L544.2,228.3 L546,237.3 L547.8,243.95 L550.5,240.4 L553.6,241.8 L555.9,244.44 L558.1,243.45 L559,228.3 L560.4,228.3 L560.9,233.3 L562.6,233.7 L564.8,231 L566.6,223 L567.8,218.5 L568.9,223 L569.8,232.8 L570.8,243.95 L572.3,233.7 L574.7,233.7 L576,235 L578.5,234.1 L579.6,244.44 L585,245.1 L594,245.1 L597.5,244.22 L602.9,244.22 L604.7,240.9 L607.4,239.5 L609.6,235.9 L611.4,240.4 L613.6,242.2 L615.4,240.9 L617.7,241.8 L619,236.4 L619.9,231.5 L621.7,233.3 L623.3,234.1 L624.4,240.9 L625.3,243.73 L627.5,240.9 L628.9,240 L630.7,243.45 L631.6,244.22 L633.3,240.9 L635,236.4 L636.5,239.1 L637.8,238.6 L639.6,242.7 L641,243.95 L643.2,242.7 L645,242.7 L646.8,243.95 L649,243.45 L651.3,243.73 L653.1,240 L654.2,235.9 L655.6,239.1 L656.6,243.45 L659.3,243.95 L662.5,243.45 L665.1,245.1 L674.5,245.1 L676.3,238.2 L678.1,233.7 L679.5,239.1 L680.8,243.45 L682.2,243.68 L683,242.4 L683.5,228.3 L683.9,219.4 L685.3,225.6 L686.6,234.6 L688,241.3 L690.7,242.7 L692,244.44 L693.3,245.3" fill="none" stroke="#000" stroke-width="2.08" stroke-linejoin="round" stroke-linecap="square"/>
<rect x="101.5" y="30.5" width="620.0" height="225.0" fill="none" stroke="#000" stroke-width="1.11"/>
<path d="M101.5,245.5 h-5.2" stroke="#000" stroke-width="1.11"/><text x="91.9" y="250.75" font-size="13.89" text-anchor="end">0</text><path d="M101.5,206.5 h-5.2" stroke="#000" stroke-width="1.11"/><text x="90.7" y="211.95" font-size="13.89" text-anchor="end">100</text><path d="M101.5,167.5 h-5.2" stroke="#000" stroke-width="1.11"/><text x="90.4" y="173.15" font-size="13.89" text-anchor="end">200</text><path d="M101.5,129.5 h-5.2" stroke="#000" stroke-width="1.11"/><text x="89.6" y="134.35" font-size="13.89" text-anchor="end">300</text><path d="M101.5,90.5 h-5.2" stroke="#000" stroke-width="1.11"/><text x="90.4" y="95.55" font-size="13.89" text-anchor="end">400</text><path d="M101.5,51.5 h-5.2" stroke="#000" stroke-width="1.11"/><text x="89.7" y="56.75" font-size="13.89" text-anchor="end">500</text>
<path d="M102.5,255.5 v5.2" stroke="#000" stroke-width="1.11"/><text transform="translate(99.48,275) rotate(-30)" font-size="13.69" text-anchor="end">28-Jun-2024</text><path d="M129.5,255.5 v5.2" stroke="#000" stroke-width="1.11"/><text transform="translate(126.79,275) rotate(-30)" font-size="13.69" text-anchor="end">01-Jul-2024</text><path d="M156.5,255.5 v5.2" stroke="#000" stroke-width="1.11"/><text transform="translate(154.1,275) rotate(-30)" font-size="13.69" text-anchor="end">04-Jul-2024</text><path d="M184.5,255.5 v5.2" stroke="#000" stroke-width="1.11"/><text transform="translate(181.41,275) rotate(-30)" font-size="13.69" text-anchor="end">07-Jul-2024</text><path d="M211.5,255.5 v5.2" stroke="#000" stroke-width="1.11"/><text transform="translate(208.72,275) rotate(-30)" font-size="13.69" text-anchor="end">10-Jul-2024</text><path d="M238.5,255.5 v5.2" stroke="#000" stroke-width="1.11"/><text transform="translate(236.03,275) rotate(-30)" font-size="13.69" text-anchor="end">13-Jul-2024</text><path d="M266.5,255.5 v5.2" stroke="#000" stroke-width="1.11"/><text transform="translate(263.34,275) rotate(-30)" font-size="13.69" text-anchor="end">16-Jul-2024</text><path d="M293.5,255.5 v5.2" stroke="#000" stroke-width="1.11"/><text transform="translate(290.65,275) rotate(-30)" font-size="13.69" text-anchor="end">19-Jul-2024</text><path d="M320.5,255.5 v5.2" stroke="#000" stroke-width="1.11"/><text transform="translate(317.96,275) rotate(-30)" font-size="13.69" text-anchor="end">22-Jul-2024</text><path d="M348.5,255.5 v5.2" stroke="#000" stroke-width="1.11"/><text transform="translate(345.27,275) rotate(-30)" font-size="13.69" text-anchor="end">25-Jul-2024</text><path d="M375.5,255.5 v5.2" stroke="#000" stroke-width="1.11"/><text transform="translate(372.58,275) rotate(-30)" font-size="13.69" text-anchor="end">28-Jul-2024</text><path d="M402.5,255.5 v5.2" stroke="#000" stroke-width="1.11"/><text transform="translate(399.89,275) rotate(-30)" font-size="13.69" text-anchor="end">31-Jul-2024</text><path d="M430.5,255.5 v5.2" stroke="#000" stroke-width="1.11"/><text transform="translate(427.2,275) rotate(-30)" font-size="13.69" text-anchor="end">03-Aug-2024</text><path d="M457.5,255.5 v5.2" stroke="#000" stroke-width="1.11"/><text transform="translate(454.51,275) rotate(-30)" font-size="13.69" text-anchor="end">06-Aug-2024</text><path d="M484.5,255.5 v5.2" stroke="#000" stroke-width="1.11"/><text transform="translate(481.82,275) rotate(-30)" font-size="13.69" text-anchor="end">09-Aug-2024</text><path d="M512.5,255.5 v5.2" stroke="#000" stroke-width="1.11"/><text transform="translate(509.13,275) rotate(-30)" font-size="13.69" text-anchor="end">12-Aug-2024</text><path d="M539.5,255.5 v5.2" stroke="#000" stroke-width="1.11"/><text transform="translate(536.44,275) rotate(-30)" font-size="13.69" text-anchor="end">15-Aug-2024</text><path d="M566.5,255.5 v5.2" stroke="#000" stroke-width="1.11"/><text transform="translate(563.74,275) rotate(-30)" font-size="13.69" text-anchor="end">18-Aug-2024</text><path d="M593.5,255.5 v5.2" stroke="#000" stroke-width="1.11"/><text transform="translate(591.05,275) rotate(-30)" font-size="13.69" text-anchor="end">21-Aug-2024</text><path d="M621.5,255.5 v5.2" stroke="#000" stroke-width="1.11"/><text transform="translate(618.36,275) rotate(-30)" font-size="13.69" text-anchor="end">24-Aug-2024</text><path d="M648.5,255.5 v5.2" stroke="#000" stroke-width="1.11"/><text transform="translate(645.67,275) rotate(-30)" font-size="13.69" text-anchor="end">27-Aug-2024</text><path d="M675.5,255.5 v5.2" stroke="#000" stroke-width="1.11"/><text transform="translate(672.98,275) rotate(-30)" font-size="13.69" text-anchor="end">30-Aug-2024</text><path d="M703.5,255.5 v5.2" stroke="#000" stroke-width="1.11"/><text transform="translate(700.29,275) rotate(-30)" font-size="13.69" text-anchor="end">02-Sep-2024</text>
<text x="411" y="22.4" font-size="16.67" letter-spacing="0.017" text-anchor="middle">Continental contribution to DUST-406 concentrations</text>
<text transform="translate(24.2,143.1) rotate(-90)" font-size="19.44" letter-spacing="0.028" text-anchor="middle">DUST-406 concentration</text>
<text transform="translate(49.8,186.0) rotate(-90)" font-size="19.44">(<tspan dx="1.3">ng</tspan><tspan dx="1.4"> m</tspan><tspan font-size="13.6" dy="-7.1">−3</tspan><tspan dy="7.1">)</tspan></text>
<rect x="101" y="345.5" width="62.5" height="47" fill="#cccccc"/><rect x="163" y="345.5" width="62.5" height="47" fill="#e50000"/><rect x="225" y="345.5" width="62.5" height="47" fill="#ffb000"/><rect x="287" y="345.5" width="62.5" height="47" fill="#ccf900"/><rect x="349" y="345.5" width="62.5" height="47" fill="#00e100"/><rect x="411" y="345.5" width="62.5" height="47" fill="#009b0f"/><rect x="473" y="345.5" width="62.5" height="47" fill="#00a4bb"/><rect x="535" y="345.5" width="62.5" height="47" fill="#0035dd"/><rect x="597" y="345.5" width="62.5" height="47" fill="#6a009d"/><rect x="659" y="345.5" width="62.5" height="47" fill="#000000"/><rect x="101.5" y="345.5" width="620.0" height="47" fill="none" stroke="#000" stroke-width="1.11"/><text x="131.8" y="372.2" font-size="13.89" letter-spacing="-0.4" text-anchor="middle" fill="#000">OCE</text><text x="193.8" y="372.2" font-size="13.89" letter-spacing="-0.4" text-anchor="middle" fill="#000">GNL</text><text x="255.8" y="372.2" font-size="13.89" letter-spacing="-0.4" text-anchor="middle" fill="#000">SA</text><text x="317.8" y="372.2" font-size="13.89" letter-spacing="-0.4" text-anchor="middle" fill="#000">CA</text><text x="379.8" y="372.2" font-size="13.89" letter-spacing="-0.4" text-anchor="middle" fill="#000">NA</text><text x="441.8" y="372.2" font-size="13.89" letter-spacing="-0.4" text-anchor="middle" fill="#000">AFR</text><text x="503.8" y="372.2" font-size="13.89" letter-spacing="-0.4" text-anchor="middle" fill="#000">EUR</text><text x="565.8" y="372.2" font-size="13.89" letter-spacing="-0.4" text-anchor="middle" fill="#000">RUS</text><text x="627.8" y="372.2" font-size="13.89" letter-spacing="-0.4" text-anchor="middle" fill="#000">ASI</text><text x="689.8" y="372.2" font-size="13.89" letter-spacing="-0.4" text-anchor="middle" fill="#fff">AUS</text><path d="M101.5,392.5 v5.2" stroke="#000" stroke-width="1.11"/><path d="M225.5,392.5 v5.2" stroke="#000" stroke-width="1.11"/><path d="M349.5,392.5 v5.2" stroke="#000" stroke-width="1.11"/><path d="M473.5,392.5 v5.2" stroke="#000" stroke-width="1.11"/><path d="M597.5,392.5 v5.2" stroke="#000" stroke-width="1.11"/><path d="M721.5,392.5 v5.2" stroke="#000" stroke-width="1.11"/>
</svg>
</body></html>
